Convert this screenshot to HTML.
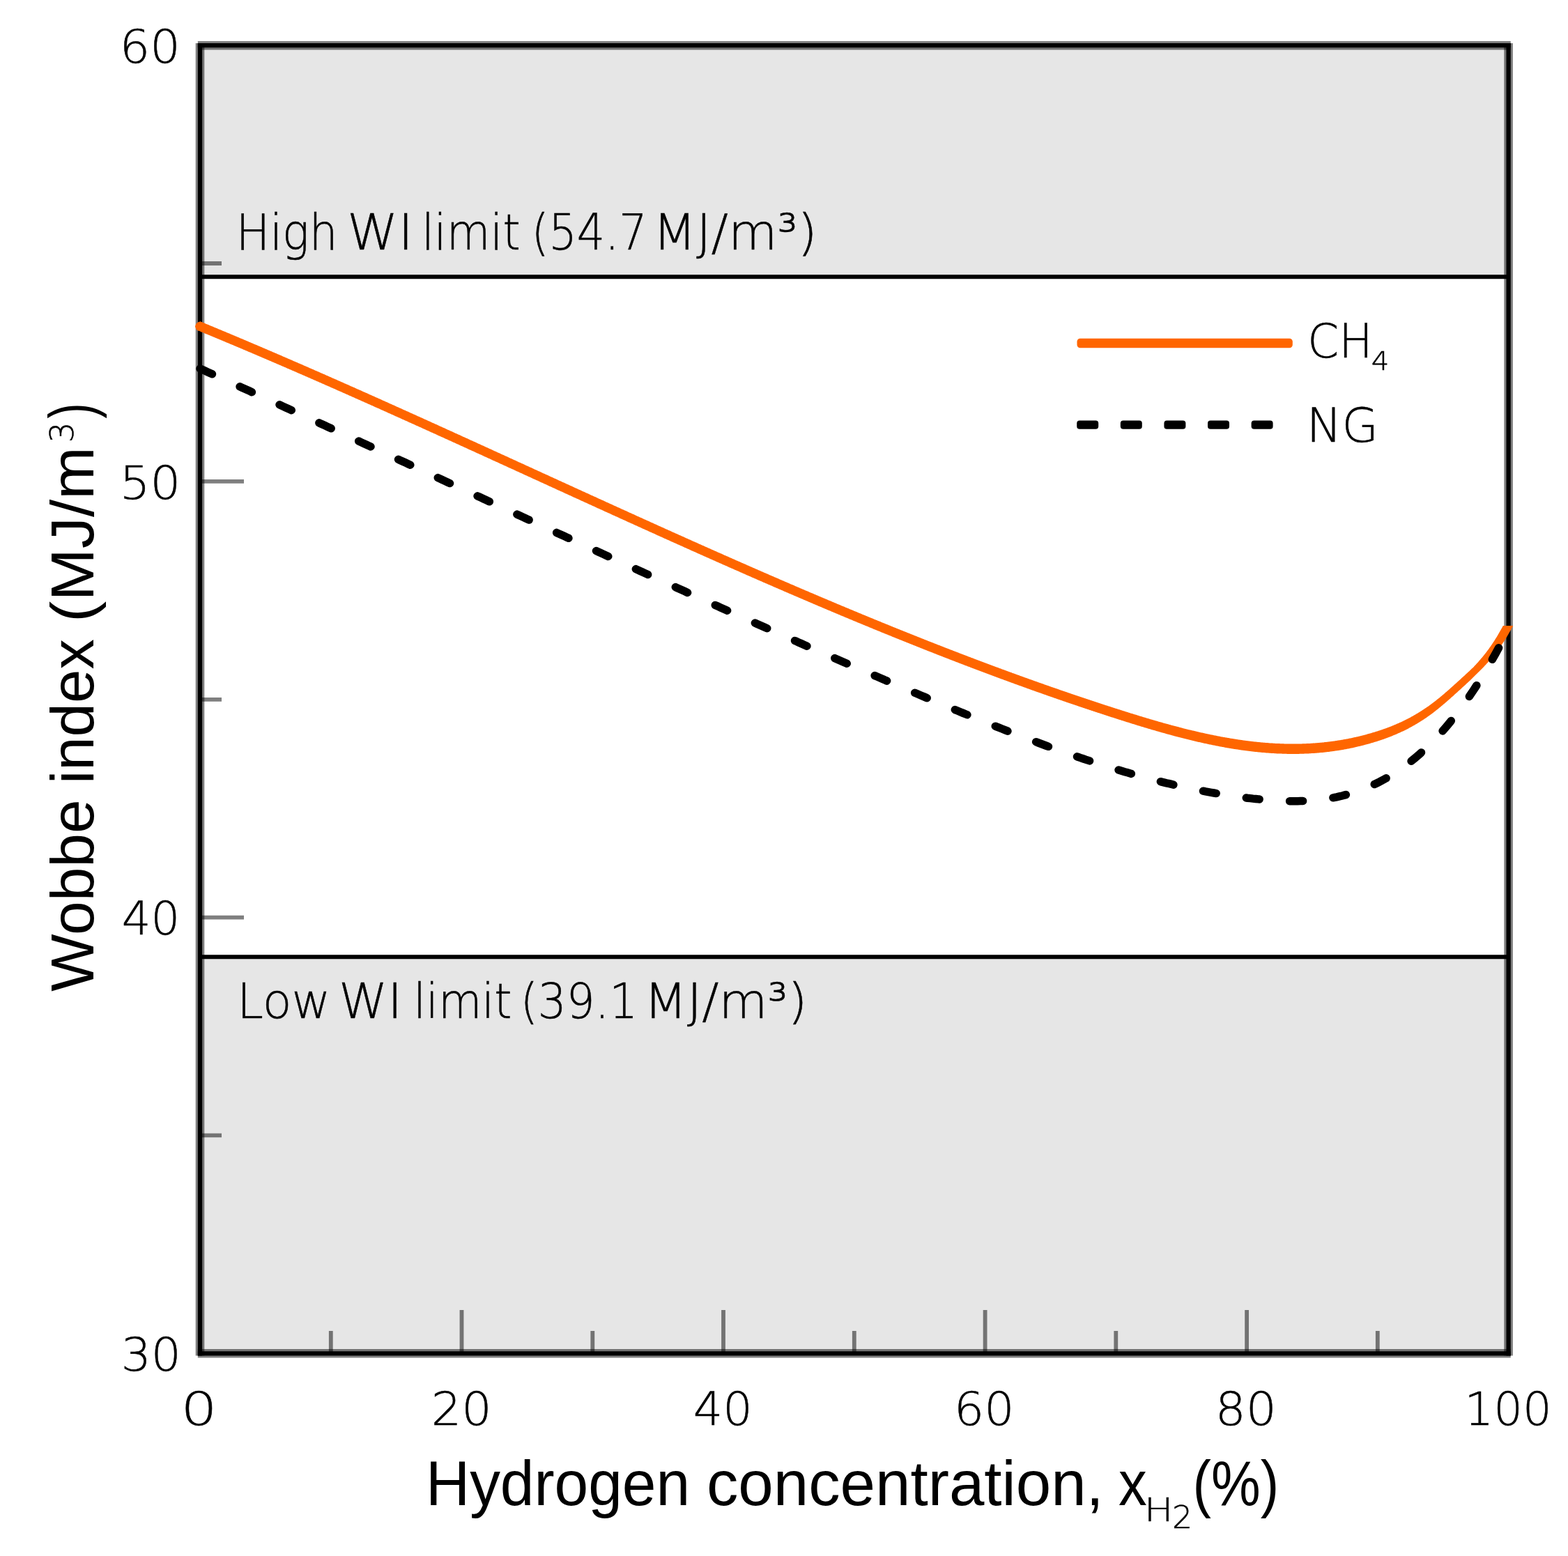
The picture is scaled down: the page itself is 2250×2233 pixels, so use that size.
<!DOCTYPE html><html><head><meta charset="utf-8"><title>Wobbe index vs hydrogen concentration</title>
<style>html,body{margin:0;padding:0;background:#fff;overflow:hidden}svg{display:block}</style></head><body>
<svg width="2250" height="2233" viewBox="0 0 2250 2233">
<rect x="0" y="0" width="2250" height="2233" fill="#fff"/>
<rect x="287.0" y="65.2" width="1877.6" height="331.6" fill="#e6e6e6"/>
<rect x="287.0" y="1372.9" width="1877.6" height="569.4" fill="#e6e6e6"/>
<path d="M287.00 62.05 L287.00 1945.45" stroke="rgba(0,0,0,0.5)" stroke-width="12.6" fill="none"/>
<path d="M287.00 62.05 L287.00 1945.45" stroke="#000" stroke-width="6.3" fill="none"/>
<path d="M283.85 65.20 L2167.75 65.20" stroke="rgba(0,0,0,0.5)" stroke-width="12.6" fill="none"/>
<path d="M283.85 65.20 L2167.75 65.20" stroke="#000" stroke-width="6.3" fill="none"/>
<path d="M2164.60 62.05 L2164.60 1945.45" stroke="rgba(0,0,0,0.5)" stroke-width="12.6" fill="none"/>
<path d="M2164.60 62.05 L2164.60 1945.45" stroke="#000" stroke-width="6.3" fill="none"/>
<path d="M283.85 1942.30 L2167.75 1942.30" stroke="rgba(0,0,0,0.5)" stroke-width="12.6" fill="none"/>
<path d="M283.85 1942.30 L2167.75 1942.30" stroke="#000" stroke-width="6.3" fill="none"/>
<path d="M287.0 378.0 H318 M287.0 1003.8 H318 M287.0 1629.4 H318 M287.0 690.9 H350 M287.0 1316.6 H350 M474.8 1942.3 V1910 M850.3 1942.3 V1910 M1225.8 1942.3 V1910 M1601.3 1942.3 V1910 M1976.8 1942.3 V1910 M662.5 1942.3 V1880 M1038.0 1942.3 V1880 M1413.6 1942.3 V1880 M1789.1 1942.3 V1880" stroke="rgba(0,0,0,0.5)" stroke-width="5.8" fill="none"/>
<path d="M287.0 397.2 H2164.6 M287.0 1373.3 H2164.6" stroke="#000" stroke-width="6" fill="none"/>
<path d="M279.8 468.4 L287.0 461.2 L288.0 461.6 L289.0 462.0 L290.0 462.4 L291.0 462.8 L292.0 463.2 L293.0 463.6 L294.0 464.0 L295.0 464.5 L296.0 464.9 L297.0 465.3 L298.0 465.7 L299.0 466.1 L300.0 466.5 L301.0 466.9 L302.0 467.4 L303.0 467.8 L304.0 468.2 L305.0 468.6 L306.0 469.0 L307.0 469.4 L308.0 469.9 L309.0 470.3 L310.0 470.7 L311.0 471.1 L312.0 471.5 L313.0 471.9 L314.0 472.4 L315.0 472.8 L316.0 473.2 L317.0 473.6 L318.0 474.0 L319.0 474.4 L320.0 474.9 L321.0 475.3 L322.0 475.7 L323.0 476.1 L324.0 476.5 L325.0 477.0 L326.0 477.4 L327.0 477.8 L328.0 478.2 L329.0 478.6 L330.0 479.1 L331.0 479.5 L332.0 479.9 L333.0 480.3 L334.0 480.7 L335.0 481.2 L336.0 481.6 L337.0 482.0 L338.0 482.4 L339.0 482.8 L340.0 483.3 L341.0 483.7 L342.0 484.1 L343.0 484.5 L344.0 484.9 L345.0 485.4 L346.0 485.8 L347.0 486.2 L348.0 486.6 L349.0 487.1 L350.0 487.5 L351.0 487.9 L352.0 488.3 L353.0 488.8 L354.0 489.2 L355.0 489.6 L356.0 490.0 L357.0 490.5 L358.0 490.9 L359.0 491.3 L360.0 491.7 L361.0 492.2 L362.0 492.6 L363.0 493.0 L364.0 493.4 L365.0 493.9 L366.0 494.3 L367.0 494.7 L368.0 495.1 L369.0 495.6 L370.0 496.0 L371.0 496.4 L372.0 496.8 L373.0 497.3 L374.0 497.7 L375.0 498.1 L376.0 498.5 L377.0 499.0 L378.0 499.4 L379.0 499.8 L380.0 500.3 L381.0 500.7 L382.0 501.1 L383.0 501.5 L384.0 502.0 L385.0 502.4 L386.0 502.8 L387.0 503.3 L388.0 503.7 L389.0 504.1 L390.0 504.5 L391.0 505.0 L392.0 505.4 L393.0 505.8 L394.0 506.3 L395.0 506.7 L396.0 507.1 L397.0 507.6 L398.0 508.0 L399.0 508.4 L400.0 508.8 L401.0 509.3 L402.0 509.7 L403.0 510.1 L404.0 510.6 L405.0 511.0 L406.0 511.4 L407.0 511.9 L408.0 512.3 L409.0 512.7 L410.0 513.2 L411.0 513.6 L412.0 514.0 L413.0 514.5 L414.0 514.9 L415.0 515.3 L416.0 515.8 L417.0 516.2 L418.0 516.6 L419.0 517.1 L420.0 517.5 L421.0 517.9 L422.0 518.4 L423.0 518.8 L424.0 519.2 L425.0 519.7 L426.0 520.1 L427.0 520.5 L428.0 521.0 L429.0 521.4 L430.0 521.8 L431.0 522.3 L432.0 522.7 L433.0 523.1 L434.0 523.6 L435.0 524.0 L436.0 524.4 L437.0 524.9 L438.0 525.3 L439.0 525.8 L440.0 526.2 L441.0 526.6 L442.0 527.1 L443.0 527.5 L444.0 527.9 L445.0 528.4 L446.0 528.8 L447.0 529.3 L448.0 529.7 L449.0 530.1 L450.0 530.6 L451.0 531.0 L452.0 531.4 L453.0 531.9 L454.0 532.3 L455.0 532.8 L456.0 533.2 L457.0 533.6 L458.0 534.1 L459.0 534.5 L460.0 534.9 L461.0 535.4 L462.0 535.8 L463.0 536.3 L464.0 536.7 L465.0 537.1 L466.0 537.6 L467.0 538.0 L468.0 538.5 L469.0 538.9 L470.0 539.3 L471.0 539.8 L472.0 540.2 L473.0 540.7 L474.0 541.1 L475.0 541.5 L476.0 542.0 L477.0 542.4 L478.0 542.9 L479.0 543.3 L480.0 543.7 L481.0 544.2 L482.0 544.6 L483.0 545.1 L484.0 545.5 L485.0 546.0 L486.0 546.4 L487.0 546.8 L488.0 547.3 L489.0 547.7 L490.0 548.2 L491.0 548.6 L492.0 549.0 L493.0 549.5 L494.0 549.9 L495.0 550.4 L496.0 550.8 L497.0 551.3 L498.0 551.7 L499.0 552.1 L500.0 552.6 L501.0 553.0 L502.0 553.5 L503.0 553.9 L504.0 554.4 L505.0 554.8 L506.0 555.3 L507.0 555.7 L508.0 556.1 L509.0 556.6 L510.0 557.0 L511.0 557.5 L512.0 557.9 L513.0 558.4 L514.0 558.8 L515.0 559.3 L516.0 559.7 L517.0 560.1 L518.0 560.6 L519.0 561.0 L520.0 561.5 L521.0 561.9 L522.0 562.4 L523.0 562.8 L524.0 563.3 L525.0 563.7 L526.0 564.1 L527.0 564.6 L528.0 565.0 L529.0 565.5 L530.0 565.9 L531.0 566.4 L532.0 566.8 L533.0 567.3 L534.0 567.7 L535.0 568.2 L536.0 568.6 L537.0 569.1 L538.0 569.5 L539.0 570.0 L540.0 570.4 L541.0 570.8 L542.0 571.3 L543.0 571.7 L544.0 572.2 L545.0 572.6 L546.0 573.1 L547.0 573.5 L548.0 574.0 L549.0 574.4 L550.0 574.9 L551.0 575.3 L552.0 575.8 L553.0 576.2 L554.0 576.7 L555.0 577.1 L556.0 577.6 L557.0 578.0 L558.0 578.5 L559.0 578.9 L560.0 579.4 L561.0 579.8 L562.0 580.3 L563.0 580.7 L564.0 581.2 L565.0 581.6 L566.0 582.1 L567.0 582.5 L568.0 583.0 L569.0 583.4 L570.0 583.9 L571.0 584.3 L572.0 584.8 L573.0 585.2 L574.0 585.7 L575.0 586.1 L576.0 586.6 L577.0 587.0 L578.0 587.5 L579.0 587.9 L580.0 588.4 L581.0 588.8 L582.0 589.3 L583.0 589.7 L584.0 590.2 L585.0 590.6 L586.0 591.1 L587.0 591.5 L588.0 592.0 L589.0 592.4 L590.0 592.9 L591.0 593.3 L592.0 593.8 L593.0 594.2 L594.0 594.7 L595.0 595.1 L596.0 595.6 L597.0 596.0 L598.0 596.5 L599.0 596.9 L600.0 597.4 L601.0 597.8 L602.0 598.3 L603.0 598.7 L604.0 599.2 L605.0 599.6 L606.0 600.1 L607.0 600.5 L608.0 601.0 L609.0 601.4 L610.0 601.9 L611.0 602.3 L612.0 602.8 L613.0 603.3 L614.0 603.7 L615.0 604.2 L616.0 604.6 L617.0 605.1 L618.0 605.5 L619.0 606.0 L620.0 606.4 L621.0 606.9 L622.0 607.3 L623.0 607.8 L624.0 608.2 L625.0 608.7 L626.0 609.1 L627.0 609.6 L628.0 610.0 L629.0 610.5 L630.0 611.0 L631.0 611.4 L632.0 611.9 L633.0 612.3 L634.0 612.8 L635.0 613.2 L636.0 613.7 L637.0 614.1 L638.0 614.6 L639.0 615.0 L640.0 615.5 L641.0 615.9 L642.0 616.4 L643.0 616.9 L644.0 617.3 L645.0 617.8 L646.0 618.2 L647.0 618.7 L648.0 619.1 L649.0 619.6 L650.0 620.0 L651.0 620.5 L652.0 620.9 L653.0 621.4 L654.0 621.9 L655.0 622.3 L656.0 622.8 L657.0 623.2 L658.0 623.7 L659.0 624.1 L660.0 624.6 L661.0 625.0 L662.0 625.5 L663.0 625.9 L664.0 626.4 L665.0 626.9 L666.0 627.3 L667.0 627.8 L668.0 628.2 L669.0 628.7 L670.0 629.1 L671.0 629.6 L672.0 630.0 L673.0 630.5 L674.0 631.0 L675.0 631.4 L676.0 631.9 L677.0 632.3 L678.0 632.8 L679.0 633.2 L680.0 633.7 L681.0 634.1 L682.0 634.6 L683.0 635.1 L684.0 635.5 L685.0 636.0 L686.0 636.4 L687.0 636.9 L688.0 637.3 L689.0 637.8 L690.0 638.2 L691.0 638.7 L692.0 639.2 L693.0 639.6 L694.0 640.1 L695.0 640.5 L696.0 641.0 L697.0 641.4 L698.0 641.9 L699.0 642.3 L700.0 642.8 L701.0 643.3 L702.0 643.7 L703.0 644.2 L704.0 644.6 L705.0 645.1 L706.0 645.5 L707.0 646.0 L708.0 646.5 L709.0 646.9 L710.0 647.4 L711.0 647.8 L712.0 648.3 L713.0 648.7 L714.0 649.2 L715.0 649.7 L716.0 650.1 L717.0 650.6 L718.0 651.0 L719.0 651.5 L720.0 651.9 L721.0 652.4 L722.0 652.8 L723.0 653.3 L724.0 653.8 L725.0 654.2 L726.0 654.7 L727.0 655.1 L728.0 655.6 L729.0 656.0 L730.0 656.5 L731.0 657.0 L732.0 657.4 L733.0 657.9 L734.0 658.3 L735.0 658.8 L736.0 659.2 L737.0 659.7 L738.0 660.2 L739.0 660.6 L740.0 661.1 L741.0 661.5 L742.0 662.0 L743.0 662.4 L744.0 662.9 L745.0 663.4 L746.0 663.8 L747.0 664.3 L748.0 664.7 L749.0 665.2 L750.0 665.6 L751.0 666.1 L752.0 666.6 L753.0 667.0 L754.0 667.5 L755.0 667.9 L756.0 668.4 L757.0 668.8 L758.0 669.3 L759.0 669.8 L760.0 670.2 L761.0 670.7 L762.0 671.1 L763.0 671.6 L764.0 672.0 L765.0 672.5 L766.0 673.0 L767.0 673.4 L768.0 673.9 L769.0 674.3 L770.0 674.8 L771.0 675.2 L772.0 675.7 L773.0 676.2 L774.0 676.6 L775.0 677.1 L776.0 677.5 L777.0 678.0 L778.0 678.4 L779.0 678.9 L780.0 679.4 L781.0 679.8 L782.0 680.3 L783.0 680.7 L784.0 681.2 L785.0 681.6 L786.0 682.1 L787.0 682.6 L788.0 683.0 L789.0 683.5 L790.0 683.9 L791.0 684.4 L792.0 684.8 L793.0 685.3 L794.0 685.8 L795.0 686.2 L796.0 686.7 L797.0 687.1 L798.0 687.6 L799.0 688.0 L800.0 688.5 L801.0 689.0 L802.0 689.4 L803.0 689.9 L804.0 690.3 L805.0 690.8 L806.0 691.2 L807.0 691.7 L808.0 692.2 L809.0 692.6 L810.0 693.1 L811.0 693.5 L812.0 694.0 L813.0 694.4 L814.0 694.9 L815.0 695.3 L816.0 695.8 L817.0 696.3 L818.0 696.7 L819.0 697.2 L820.0 697.6 L821.0 698.1 L822.0 698.5 L823.0 699.0 L824.0 699.5 L825.0 699.9 L826.0 700.4 L827.0 700.8 L828.0 701.3 L829.0 701.7 L830.0 702.2 L831.0 702.7 L832.0 703.1 L833.0 703.6 L834.0 704.0 L835.0 704.5 L836.0 704.9 L837.0 705.4 L838.0 705.8 L839.0 706.3 L840.0 706.8 L841.0 707.2 L842.0 707.7 L843.0 708.1 L844.0 708.6 L845.0 709.0 L846.0 709.5 L847.0 709.9 L848.0 710.4 L849.0 710.9 L850.0 711.3 L851.0 711.8 L852.0 712.2 L853.0 712.7 L854.0 713.1 L855.0 713.6 L856.0 714.0 L857.0 714.5 L858.0 715.0 L859.0 715.4 L860.0 715.9 L861.0 716.3 L862.0 716.8 L863.0 717.2 L864.0 717.7 L865.0 718.1 L866.0 718.6 L867.0 719.1 L868.0 719.5 L869.0 720.0 L870.0 720.4 L871.0 720.9 L872.0 721.3 L873.0 721.8 L874.0 722.2 L875.0 722.7 L876.0 723.2 L877.0 723.6 L878.0 724.1 L879.0 724.5 L880.0 725.0 L881.0 725.4 L882.0 725.9 L883.0 726.3 L884.0 726.8 L885.0 727.2 L886.0 727.7 L887.0 728.2 L888.0 728.6 L889.0 729.1 L890.0 729.5 L891.0 730.0 L892.0 730.4 L893.0 730.9 L894.0 731.3 L895.0 731.8 L896.0 732.2 L897.0 732.7 L898.0 733.1 L899.0 733.6 L900.0 734.1 L901.0 734.5 L902.0 735.0 L903.0 735.4 L904.0 735.9 L905.0 736.3 L906.0 736.8 L907.0 737.2 L908.0 737.7 L909.0 738.1 L910.0 738.6 L911.0 739.0 L912.0 739.5 L913.0 739.9 L914.0 740.4 L915.0 740.9 L916.0 741.3 L917.0 741.8 L918.0 742.2 L919.0 742.7 L920.0 743.1 L921.0 743.6 L922.0 744.0 L923.0 744.5 L924.0 744.9 L925.0 745.4 L926.0 745.8 L927.0 746.3 L928.0 746.7 L929.0 747.2 L930.0 747.6 L931.0 748.1 L932.0 748.5 L933.0 749.0 L934.0 749.4 L935.0 749.9 L936.0 750.3 L937.0 750.8 L938.0 751.2 L939.0 751.7 L940.0 752.2 L941.0 752.6 L942.0 753.1 L943.0 753.5 L944.0 754.0 L945.0 754.4 L946.0 754.9 L947.0 755.3 L948.0 755.8 L949.0 756.2 L950.0 756.7 L951.0 757.1 L952.0 757.6 L953.0 758.0 L954.0 758.5 L955.0 758.9 L956.0 759.4 L957.0 759.8 L958.0 760.3 L959.0 760.7 L960.0 761.2 L961.0 761.6 L962.0 762.1 L963.0 762.5 L964.0 763.0 L965.0 763.4 L966.0 763.9 L967.0 764.3 L968.0 764.8 L969.0 765.2 L970.0 765.7 L971.0 766.1 L972.0 766.6 L973.0 767.0 L974.0 767.4 L975.0 767.9 L976.0 768.3 L977.0 768.8 L978.0 769.2 L979.0 769.7 L980.0 770.1 L981.0 770.6 L982.0 771.0 L983.0 771.5 L984.0 771.9 L985.0 772.4 L986.0 772.8 L987.0 773.3 L988.0 773.7 L989.0 774.2 L990.0 774.6 L991.0 775.1 L992.0 775.5 L993.0 776.0 L994.0 776.4 L995.0 776.9 L996.0 777.3 L997.0 777.7 L998.0 778.2 L999.0 778.6 L1000.0 779.1 L1001.0 779.5 L1002.0 780.0 L1003.0 780.4 L1004.0 780.9 L1005.0 781.3 L1006.0 781.8 L1007.0 782.2 L1008.0 782.7 L1009.0 783.1 L1010.0 783.5 L1011.0 784.0 L1012.0 784.4 L1013.0 784.9 L1014.0 785.3 L1015.0 785.8 L1016.0 786.2 L1017.0 786.7 L1018.0 787.1 L1019.0 787.5 L1020.0 788.0 L1021.0 788.4 L1022.0 788.9 L1023.0 789.3 L1024.0 789.8 L1025.0 790.2 L1026.0 790.7 L1027.0 791.1 L1028.0 791.5 L1029.0 792.0 L1030.0 792.4 L1031.0 792.9 L1032.0 793.3 L1033.0 793.8 L1034.0 794.2 L1035.0 794.6 L1036.0 795.1 L1037.0 795.5 L1038.0 796.0 L1039.0 796.4 L1040.0 796.9 L1041.0 797.3 L1042.0 797.7 L1043.0 798.2 L1044.0 798.6 L1045.0 799.1 L1046.0 799.5 L1047.0 800.0 L1048.0 800.4 L1049.0 800.8 L1050.0 801.3 L1051.0 801.7 L1052.0 802.2 L1053.0 802.6 L1054.0 803.0 L1055.0 803.5 L1056.0 803.9 L1057.0 804.4 L1058.0 804.8 L1059.0 805.2 L1060.0 805.7 L1061.0 806.1 L1062.0 806.6 L1063.0 807.0 L1064.0 807.4 L1065.0 807.9 L1066.0 808.3 L1067.0 808.8 L1068.0 809.2 L1069.0 809.6 L1070.0 810.1 L1071.0 810.5 L1072.0 811.0 L1073.0 811.4 L1074.0 811.8 L1075.0 812.3 L1076.0 812.7 L1077.0 813.2 L1078.0 813.6 L1079.0 814.0 L1080.0 814.5 L1081.0 814.9 L1082.0 815.3 L1083.0 815.8 L1084.0 816.2 L1085.0 816.7 L1086.0 817.1 L1087.0 817.5 L1088.0 818.0 L1089.0 818.4 L1090.0 818.8 L1091.0 819.3 L1092.0 819.7 L1093.0 820.2 L1094.0 820.6 L1095.0 821.0 L1096.0 821.5 L1097.0 821.9 L1098.0 822.3 L1099.0 822.8 L1100.0 823.2 L1101.0 823.6 L1102.0 824.1 L1103.0 824.5 L1104.0 824.9 L1105.0 825.4 L1106.0 825.8 L1107.0 826.2 L1108.0 826.7 L1109.0 827.1 L1110.0 827.5 L1111.0 828.0 L1112.0 828.4 L1113.0 828.8 L1114.0 829.3 L1115.0 829.7 L1116.0 830.1 L1117.0 830.6 L1118.0 831.0 L1119.0 831.4 L1120.0 831.9 L1121.0 832.3 L1122.0 832.7 L1123.0 833.2 L1124.0 833.6 L1125.0 834.0 L1126.0 834.5 L1127.0 834.9 L1128.0 835.3 L1129.0 835.8 L1130.0 836.2 L1131.0 836.6 L1132.0 837.1 L1133.0 837.5 L1134.0 837.9 L1135.0 838.4 L1136.0 838.8 L1137.0 839.2 L1138.0 839.6 L1139.0 840.1 L1140.0 840.5 L1141.0 840.9 L1142.0 841.4 L1143.0 841.8 L1144.0 842.2 L1145.0 842.7 L1146.0 843.1 L1147.0 843.5 L1148.0 843.9 L1149.0 844.4 L1150.0 844.8 L1151.0 845.2 L1152.0 845.7 L1153.0 846.1 L1154.0 846.5 L1155.0 846.9 L1156.0 847.4 L1157.0 847.8 L1158.0 848.2 L1159.0 848.6 L1160.0 849.1 L1161.0 849.5 L1162.0 849.9 L1163.0 850.4 L1164.0 850.8 L1165.0 851.2 L1166.0 851.6 L1167.0 852.1 L1168.0 852.5 L1169.0 852.9 L1170.0 853.3 L1171.0 853.8 L1172.0 854.2 L1173.0 854.6 L1174.0 855.0 L1175.0 855.5 L1176.0 855.9 L1177.0 856.3 L1178.0 856.7 L1179.0 857.2 L1180.0 857.6 L1181.0 858.0 L1182.0 858.4 L1183.0 858.8 L1184.0 859.3 L1185.0 859.7 L1186.0 860.1 L1187.0 860.5 L1188.0 861.0 L1189.0 861.4 L1190.0 861.8 L1191.0 862.2 L1192.0 862.6 L1193.0 863.1 L1194.0 863.5 L1195.0 863.9 L1196.0 864.3 L1197.0 864.8 L1198.0 865.2 L1199.0 865.6 L1200.0 866.0 L1201.0 866.4 L1202.0 866.9 L1203.0 867.3 L1204.0 867.7 L1205.0 868.1 L1206.0 868.5 L1207.0 869.0 L1208.0 869.4 L1209.0 869.8 L1210.0 870.2 L1211.0 870.6 L1212.0 871.0 L1213.0 871.5 L1214.0 871.9 L1215.0 872.3 L1216.0 872.7 L1217.0 873.1 L1218.0 873.6 L1219.0 874.0 L1220.0 874.4 L1221.0 874.8 L1222.0 875.2 L1223.0 875.6 L1224.0 876.1 L1225.0 876.5 L1226.0 876.9 L1227.0 877.3 L1228.0 877.7 L1229.0 878.1 L1230.0 878.5 L1231.0 879.0 L1232.0 879.4 L1233.0 879.8 L1234.0 880.2 L1235.0 880.6 L1236.0 881.0 L1237.0 881.4 L1238.0 881.9 L1239.0 882.3 L1240.0 882.7 L1241.0 883.1 L1242.0 883.5 L1243.0 883.9 L1244.0 884.3 L1245.0 884.7 L1246.0 885.2 L1247.0 885.6 L1248.0 886.0 L1249.0 886.4 L1250.0 886.8 L1251.0 887.2 L1252.0 887.6 L1253.0 888.0 L1254.0 888.5 L1255.0 888.9 L1256.0 889.3 L1257.0 889.7 L1258.0 890.1 L1259.0 890.5 L1260.0 890.9 L1261.0 891.3 L1262.0 891.7 L1263.0 892.1 L1264.0 892.5 L1265.0 893.0 L1266.0 893.4 L1267.0 893.8 L1268.0 894.2 L1269.0 894.6 L1270.0 895.0 L1271.0 895.4 L1272.0 895.8 L1273.0 896.2 L1274.0 896.6 L1275.0 897.0 L1276.0 897.4 L1277.0 897.8 L1278.0 898.2 L1279.0 898.7 L1280.0 899.1 L1281.0 899.5 L1282.0 899.9 L1283.0 900.3 L1284.0 900.7 L1285.0 901.1 L1286.0 901.5 L1287.0 901.9 L1288.0 902.3 L1289.0 902.7 L1290.0 903.1 L1291.0 903.5 L1292.0 903.9 L1293.0 904.3 L1294.0 904.7 L1295.0 905.1 L1296.0 905.5 L1297.0 905.9 L1298.0 906.3 L1299.0 906.7 L1300.0 907.1 L1301.0 907.5 L1302.0 907.9 L1303.0 908.3 L1304.0 908.7 L1305.0 909.1 L1306.0 909.5 L1307.0 909.9 L1308.0 910.3 L1309.0 910.7 L1310.0 911.1 L1311.0 911.5 L1312.0 911.9 L1313.0 912.3 L1314.0 912.7 L1315.0 913.1 L1316.0 913.5 L1317.0 913.9 L1318.0 914.3 L1319.0 914.7 L1320.0 915.1 L1321.0 915.5 L1322.0 915.9 L1323.0 916.3 L1324.0 916.7 L1325.0 917.1 L1326.0 917.5 L1327.0 917.9 L1328.0 918.3 L1329.0 918.7 L1330.0 919.1 L1331.0 919.5 L1332.0 919.9 L1333.0 920.3 L1334.0 920.7 L1335.0 921.0 L1336.0 921.4 L1337.0 921.8 L1338.0 922.2 L1339.0 922.6 L1340.0 923.0 L1341.0 923.4 L1342.0 923.8 L1343.0 924.2 L1344.0 924.6 L1345.0 925.0 L1346.0 925.4 L1347.0 925.8 L1348.0 926.1 L1349.0 926.5 L1350.0 926.9 L1351.0 927.3 L1352.0 927.7 L1353.0 928.1 L1354.0 928.5 L1355.0 928.9 L1356.0 929.3 L1357.0 929.7 L1358.0 930.0 L1359.0 930.4 L1360.0 930.8 L1361.0 931.2 L1362.0 931.6 L1363.0 932.0 L1364.0 932.4 L1365.0 932.8 L1366.0 933.1 L1367.0 933.5 L1368.0 933.9 L1369.0 934.3 L1370.0 934.7 L1371.0 935.1 L1372.0 935.5 L1373.0 935.8 L1374.0 936.2 L1375.0 936.6 L1376.0 937.0 L1377.0 937.4 L1378.0 937.8 L1379.0 938.2 L1380.0 938.5 L1381.0 938.9 L1382.0 939.3 L1383.0 939.7 L1384.0 940.1 L1385.0 940.5 L1386.0 940.8 L1387.0 941.2 L1388.0 941.6 L1389.0 942.0 L1390.0 942.4 L1391.0 942.7 L1392.0 943.1 L1393.0 943.5 L1394.0 943.9 L1395.0 944.3 L1396.0 944.6 L1397.0 945.0 L1398.0 945.4 L1399.0 945.8 L1400.0 946.2 L1401.0 946.5 L1402.0 946.9 L1403.0 947.3 L1404.0 947.7 L1405.0 948.0 L1406.0 948.4 L1407.0 948.8 L1408.0 949.2 L1409.0 949.6 L1410.0 949.9 L1411.0 950.3 L1412.0 950.7 L1413.0 951.1 L1414.0 951.4 L1415.0 951.8 L1416.0 952.2 L1417.0 952.6 L1418.0 952.9 L1419.0 953.3 L1420.0 953.7 L1421.0 954.0 L1422.0 954.4 L1423.0 954.8 L1424.0 955.2 L1425.0 955.5 L1426.0 955.9 L1427.0 956.3 L1428.0 956.7 L1429.0 957.0 L1430.0 957.4 L1431.0 957.8 L1432.0 958.1 L1433.0 958.5 L1434.0 958.9 L1435.0 959.3 L1436.0 959.6 L1437.0 960.0 L1438.0 960.4 L1439.0 960.7 L1440.0 961.1 L1441.0 961.5 L1442.0 961.8 L1443.0 962.2 L1444.0 962.6 L1445.0 962.9 L1446.0 963.3 L1447.0 963.7 L1448.0 964.0 L1449.0 964.4 L1450.0 964.8 L1451.0 965.1 L1452.0 965.5 L1453.0 965.9 L1454.0 966.2 L1455.0 966.6 L1456.0 967.0 L1457.0 967.3 L1458.0 967.7 L1459.0 968.0 L1460.0 968.4 L1461.0 968.8 L1462.0 969.1 L1463.0 969.5 L1464.0 969.9 L1465.0 970.2 L1466.0 970.6 L1467.0 970.9 L1468.0 971.3 L1469.0 971.7 L1470.0 972.0 L1471.0 972.4 L1472.0 972.7 L1473.0 973.1 L1474.0 973.5 L1475.0 973.8 L1476.0 974.2 L1477.0 974.5 L1478.0 974.9 L1479.0 975.3 L1480.0 975.6 L1481.0 976.0 L1482.0 976.3 L1483.0 976.7 L1484.0 977.0 L1485.0 977.4 L1486.0 977.8 L1487.0 978.1 L1488.0 978.5 L1489.0 978.8 L1490.0 979.2 L1491.0 979.5 L1492.0 979.9 L1493.0 980.2 L1494.0 980.6 L1495.0 980.9 L1496.0 981.3 L1497.0 981.6 L1498.0 982.0 L1499.0 982.4 L1500.0 982.7 L1501.0 983.1 L1502.0 983.4 L1503.0 983.8 L1504.0 984.1 L1505.0 984.5 L1506.0 984.8 L1507.0 985.2 L1508.0 985.5 L1509.0 985.9 L1510.0 986.2 L1511.0 986.6 L1512.0 986.9 L1513.0 987.3 L1514.0 987.6 L1515.0 987.9 L1516.0 988.3 L1517.0 988.6 L1518.0 989.0 L1519.0 989.3 L1520.0 989.7 L1521.0 990.0 L1522.0 990.4 L1523.0 990.7 L1524.0 991.1 L1525.0 991.4 L1526.0 991.8 L1527.0 992.1 L1528.0 992.4 L1529.0 992.8 L1530.0 993.1 L1531.0 993.5 L1532.0 993.8 L1533.0 994.2 L1534.0 994.5 L1535.0 994.8 L1536.0 995.2 L1537.0 995.5 L1538.0 995.9 L1539.0 996.2 L1540.0 996.5 L1541.0 996.9 L1542.0 997.2 L1543.0 997.6 L1544.0 997.9 L1545.0 998.2 L1546.0 998.6 L1547.0 998.9 L1548.0 999.3 L1549.0 999.6 L1550.0 999.9 L1551.0 1000.3 L1552.0 1000.6 L1553.0 1000.9 L1554.0 1001.3 L1555.0 1001.6 L1556.0 1001.9 L1557.0 1002.3 L1558.0 1002.6 L1559.0 1002.9 L1560.0 1003.3 L1561.0 1003.6 L1562.0 1003.9 L1563.0 1004.3 L1564.0 1004.6 L1565.0 1004.9 L1566.0 1005.3 L1567.0 1005.6 L1568.0 1005.9 L1569.0 1006.3 L1570.0 1006.6 L1571.0 1006.9 L1572.0 1007.3 L1573.0 1007.6 L1574.0 1007.9 L1575.0 1008.3 L1576.0 1008.6 L1577.0 1008.9 L1578.0 1009.2 L1579.0 1009.6 L1580.0 1009.9 L1581.0 1010.2 L1582.0 1010.6 L1583.0 1010.9 L1584.0 1011.2 L1585.0 1011.5 L1586.0 1011.9 L1587.0 1012.2 L1588.0 1012.5 L1589.0 1012.8 L1590.0 1013.2 L1591.0 1013.5 L1592.0 1013.8 L1593.0 1014.1 L1594.0 1014.5 L1595.0 1014.8 L1596.0 1015.1 L1597.0 1015.4 L1598.0 1015.7 L1599.0 1016.1 L1600.0 1016.4 L1601.0 1016.7 L1602.0 1017.0 L1603.0 1017.3 L1604.0 1017.7 L1605.0 1018.0 L1606.0 1018.3 L1607.0 1018.6 L1608.0 1018.9 L1609.0 1019.3 L1610.0 1019.6 L1611.0 1019.9 L1612.0 1020.2 L1613.0 1020.5 L1614.0 1020.8 L1615.0 1021.2 L1616.0 1021.5 L1617.0 1021.8 L1618.0 1022.1 L1619.0 1022.4 L1620.0 1022.7 L1621.0 1023.0 L1622.0 1023.4 L1623.0 1023.7 L1624.0 1024.0 L1625.0 1024.3 L1626.0 1024.6 L1627.0 1024.9 L1628.0 1025.2 L1629.0 1025.5 L1630.0 1025.8 L1631.0 1026.1 L1632.0 1026.5 L1633.0 1026.8 L1634.0 1027.1 L1635.0 1027.4 L1636.0 1027.7 L1637.0 1028.0 L1638.0 1028.3 L1639.0 1028.6 L1640.0 1028.9 L1641.0 1029.2 L1642.0 1029.5 L1643.0 1029.8 L1644.0 1030.1 L1645.0 1030.4 L1646.0 1030.7 L1647.0 1031.0 L1648.0 1031.3 L1649.0 1031.6 L1650.0 1031.9 L1651.0 1032.2 L1652.0 1032.5 L1653.0 1032.8 L1654.0 1033.1 L1655.0 1033.4 L1656.0 1033.6 L1657.0 1033.9 L1658.0 1034.2 L1659.0 1034.5 L1660.0 1034.8 L1661.0 1035.1 L1662.0 1035.4 L1663.0 1035.7 L1664.0 1036.0 L1665.0 1036.2 L1666.0 1036.5 L1667.0 1036.8 L1668.0 1037.1 L1669.0 1037.4 L1670.0 1037.7 L1671.0 1037.9 L1672.0 1038.2 L1673.0 1038.5 L1674.0 1038.8 L1675.0 1039.0 L1676.0 1039.3 L1677.0 1039.6 L1678.0 1039.9 L1679.0 1040.1 L1680.0 1040.4 L1681.0 1040.7 L1682.0 1041.0 L1683.0 1041.2 L1684.0 1041.5 L1685.0 1041.8 L1686.0 1042.0 L1687.0 1042.3 L1688.0 1042.6 L1689.0 1042.8 L1690.0 1043.1 L1691.0 1043.3 L1692.0 1043.6 L1693.0 1043.9 L1694.0 1044.1 L1695.0 1044.4 L1696.0 1044.6 L1697.0 1044.9 L1698.0 1045.2 L1699.0 1045.4 L1700.0 1045.7 L1701.0 1045.9 L1702.0 1046.2 L1703.0 1046.4 L1704.0 1046.7 L1705.0 1046.9 L1706.0 1047.2 L1707.0 1047.4 L1708.0 1047.6 L1709.0 1047.9 L1710.0 1048.1 L1711.0 1048.4 L1712.0 1048.6 L1713.0 1048.8 L1714.0 1049.1 L1715.0 1049.3 L1716.0 1049.6 L1717.0 1049.8 L1718.0 1050.0 L1719.0 1050.3 L1720.0 1050.5 L1721.0 1050.7 L1722.0 1050.9 L1723.0 1051.2 L1724.0 1051.4 L1725.0 1051.6 L1726.0 1051.8 L1727.0 1052.1 L1728.0 1052.3 L1729.0 1052.5 L1730.0 1052.7 L1731.0 1052.9 L1732.0 1053.1 L1733.0 1053.4 L1734.0 1053.6 L1735.0 1053.8 L1736.0 1054.0 L1737.0 1054.2 L1738.0 1054.4 L1739.0 1054.6 L1740.0 1054.8 L1741.0 1055.0 L1742.0 1055.2 L1743.0 1055.4 L1744.0 1055.6 L1745.0 1055.8 L1746.0 1056.0 L1747.0 1056.2 L1748.0 1056.4 L1749.0 1056.6 L1750.0 1056.8 L1751.0 1057.0 L1752.0 1057.2 L1753.0 1057.4 L1754.0 1057.5 L1755.0 1057.7 L1756.0 1057.9 L1757.0 1058.1 L1758.0 1058.3 L1759.0 1058.5 L1760.0 1058.6 L1761.0 1058.8 L1762.0 1059.0 L1763.0 1059.1 L1764.0 1059.3 L1765.0 1059.5 L1766.0 1059.7 L1767.0 1059.8 L1768.0 1060.0 L1769.0 1060.1 L1770.0 1060.3 L1771.0 1060.5 L1772.0 1060.6 L1773.0 1060.8 L1774.0 1060.9 L1775.0 1061.1 L1776.0 1061.2 L1777.0 1061.4 L1778.0 1061.5 L1779.0 1061.7 L1780.0 1061.8 L1781.0 1062.0 L1782.0 1062.1 L1783.0 1062.3 L1784.0 1062.4 L1785.0 1062.5 L1786.0 1062.7 L1787.0 1062.8 L1788.0 1062.9 L1789.0 1063.1 L1790.0 1063.2 L1791.0 1063.3 L1792.0 1063.4 L1793.0 1063.6 L1794.0 1063.7 L1795.0 1063.8 L1796.0 1063.9 L1797.0 1064.0 L1798.0 1064.2 L1799.0 1064.3 L1800.0 1064.4 L1801.0 1064.5 L1802.0 1064.6 L1803.0 1064.7 L1804.0 1064.8 L1805.0 1064.9 L1806.0 1065.0 L1807.0 1065.1 L1808.0 1065.2 L1809.0 1065.3 L1810.0 1065.4 L1811.0 1065.5 L1812.0 1065.6 L1813.0 1065.7 L1814.0 1065.7 L1815.0 1065.8 L1816.0 1065.9 L1817.0 1066.0 L1818.0 1066.1 L1819.0 1066.1 L1820.0 1066.2 L1821.0 1066.3 L1822.0 1066.4 L1823.0 1066.4 L1824.0 1066.5 L1825.0 1066.6 L1826.0 1066.6 L1827.0 1066.7 L1828.0 1066.7 L1829.0 1066.8 L1830.0 1066.9 L1831.0 1066.9 L1832.0 1067.0 L1833.0 1067.0 L1834.0 1067.0 L1835.0 1067.1 L1836.0 1067.1 L1837.0 1067.2 L1838.0 1067.2 L1839.0 1067.2 L1840.0 1067.3 L1841.0 1067.3 L1842.0 1067.3 L1843.0 1067.4 L1844.0 1067.4 L1845.0 1067.4 L1846.0 1067.4 L1847.0 1067.5 L1848.0 1067.5 L1849.0 1067.5 L1850.0 1067.5 L1851.0 1067.5 L1852.0 1067.5 L1853.0 1067.5 L1854.0 1067.5 L1855.0 1067.5 L1856.0 1067.5 L1857.0 1067.5 L1858.0 1067.5 L1859.0 1067.5 L1860.0 1067.5 L1861.0 1067.5 L1862.0 1067.5 L1863.0 1067.5 L1864.0 1067.5 L1865.0 1067.4 L1866.0 1067.4 L1867.0 1067.4 L1868.0 1067.4 L1869.0 1067.3 L1870.0 1067.3 L1871.0 1067.3 L1872.0 1067.2 L1873.0 1067.2 L1874.0 1067.2 L1875.0 1067.1 L1876.0 1067.1 L1877.0 1067.0 L1878.0 1067.0 L1879.0 1066.9 L1880.0 1066.9 L1881.0 1066.8 L1882.0 1066.7 L1883.0 1066.7 L1884.0 1066.6 L1885.0 1066.5 L1886.0 1066.5 L1887.0 1066.4 L1888.0 1066.3 L1889.0 1066.3 L1890.0 1066.2 L1891.0 1066.1 L1892.0 1066.0 L1893.0 1065.9 L1894.0 1065.8 L1895.0 1065.7 L1896.0 1065.7 L1897.0 1065.6 L1898.0 1065.5 L1899.0 1065.4 L1900.0 1065.3 L1901.0 1065.1 L1902.0 1065.0 L1903.0 1064.9 L1904.0 1064.8 L1905.0 1064.7 L1906.0 1064.6 L1907.0 1064.5 L1908.0 1064.3 L1909.0 1064.2 L1910.0 1064.1 L1911.0 1063.9 L1912.0 1063.8 L1913.0 1063.7 L1914.0 1063.5 L1915.0 1063.4 L1916.0 1063.2 L1917.0 1063.1 L1918.0 1062.9 L1919.0 1062.8 L1920.0 1062.6 L1921.0 1062.5 L1922.0 1062.3 L1923.0 1062.2 L1924.0 1062.0 L1925.0 1061.8 L1926.0 1061.7 L1927.0 1061.5 L1928.0 1061.3 L1929.0 1061.1 L1930.0 1060.9 L1931.0 1060.8 L1932.0 1060.6 L1933.0 1060.4 L1934.0 1060.2 L1935.0 1060.0 L1936.0 1059.8 L1937.0 1059.6 L1938.0 1059.4 L1939.0 1059.2 L1940.0 1059.0 L1941.0 1058.8 L1942.0 1058.5 L1943.0 1058.3 L1944.0 1058.1 L1945.0 1057.9 L1946.0 1057.6 L1947.0 1057.4 L1948.0 1057.2 L1949.0 1056.9 L1950.0 1056.7 L1951.0 1056.5 L1952.0 1056.2 L1953.0 1056.0 L1954.0 1055.7 L1955.0 1055.5 L1956.0 1055.2 L1957.0 1055.0 L1958.0 1054.7 L1959.0 1054.4 L1960.0 1054.2 L1961.0 1053.9 L1962.0 1053.6 L1963.0 1053.3 L1964.0 1053.1 L1965.0 1052.8 L1966.0 1052.5 L1967.0 1052.2 L1968.0 1051.9 L1969.0 1051.6 L1970.0 1051.3 L1971.0 1051.0 L1972.0 1050.7 L1973.0 1050.4 L1974.0 1050.1 L1975.0 1049.8 L1976.0 1049.5 L1977.0 1049.2 L1978.0 1048.8 L1979.0 1048.5 L1980.0 1048.2 L1981.0 1047.8 L1982.0 1047.5 L1983.0 1047.2 L1984.0 1046.8 L1985.0 1046.5 L1986.0 1046.1 L1987.0 1045.8 L1988.0 1045.4 L1989.0 1045.0 L1990.0 1044.7 L1991.0 1044.3 L1992.0 1043.9 L1993.0 1043.5 L1994.0 1043.2 L1995.0 1042.8 L1996.0 1042.4 L1997.0 1042.0 L1998.0 1041.6 L1999.0 1041.2 L2000.0 1040.7 L2001.0 1040.3 L2002.0 1039.9 L2003.0 1039.5 L2004.0 1039.1 L2005.0 1038.6 L2006.0 1038.2 L2007.0 1037.7 L2008.0 1037.3 L2009.0 1036.8 L2010.0 1036.4 L2011.0 1035.9 L2012.0 1035.4 L2013.0 1035.0 L2014.0 1034.5 L2015.0 1034.0 L2016.0 1033.5 L2017.0 1033.0 L2018.0 1032.5 L2019.0 1032.0 L2020.0 1031.5 L2021.0 1031.0 L2022.0 1030.4 L2023.0 1029.9 L2024.0 1029.4 L2025.0 1028.8 L2026.0 1028.3 L2027.0 1027.7 L2028.0 1027.2 L2029.0 1026.6 L2030.0 1026.0 L2031.0 1025.4 L2032.0 1024.8 L2033.0 1024.3 L2034.0 1023.7 L2035.0 1023.1 L2036.0 1022.4 L2037.0 1021.8 L2038.0 1021.2 L2039.0 1020.6 L2040.0 1019.9 L2041.0 1019.3 L2042.0 1018.6 L2043.0 1018.0 L2044.0 1017.3 L2045.0 1016.6 L2046.0 1016.0 L2047.0 1015.3 L2048.0 1014.6 L2049.0 1013.9 L2050.0 1013.2 L2051.0 1012.5 L2052.0 1011.7 L2053.0 1011.0 L2054.0 1010.3 L2055.0 1009.5 L2056.0 1008.8 L2057.0 1008.0 L2058.0 1007.2 L2059.0 1006.5 L2060.0 1005.7 L2061.0 1004.9 L2062.0 1004.1 L2063.0 1003.3 L2064.0 1002.5 L2065.0 1001.7 L2066.0 1000.9 L2067.0 1000.1 L2068.0 999.2 L2069.0 998.4 L2070.0 997.5 L2071.0 996.7 L2072.0 995.9 L2073.0 995.0 L2074.0 994.1 L2075.0 993.3 L2076.0 992.4 L2077.0 991.5 L2078.0 990.7 L2079.0 989.8 L2080.0 988.9 L2081.0 988.0 L2082.0 987.1 L2083.0 986.2 L2084.0 985.3 L2085.0 984.5 L2086.0 983.6 L2087.0 982.6 L2088.0 981.7 L2089.0 980.8 L2090.0 979.9 L2091.0 979.0 L2092.0 978.1 L2093.0 977.2 L2094.0 976.3 L2095.0 975.4 L2096.0 974.5 L2097.0 973.5 L2098.0 972.6 L2099.0 971.7 L2100.0 970.8 L2101.0 969.9 L2102.0 969.0 L2103.0 968.0 L2104.0 967.1 L2105.0 966.2 L2106.0 965.3 L2107.0 964.3 L2108.0 963.4 L2109.0 962.5 L2110.0 961.5 L2111.0 960.6 L2112.0 959.6 L2113.0 958.7 L2114.0 957.7 L2115.0 956.7 L2116.0 955.7 L2117.0 954.7 L2110.8 960.9 L2111.8 959.9 L2112.8 958.9 L2113.8 957.9 L2114.8 956.9 L2115.8 955.8 L2116.8 954.7 L2117.8 953.7 L2118.8 952.6 L2119.8 951.5 L2120.8 950.4 L2121.8 949.3 L2122.8 948.1 L2123.8 947.0 L2124.8 945.8 L2125.8 944.6 L2126.8 943.4 L2127.8 942.2 L2128.8 941.0 L2129.8 939.8 L2130.8 938.5 L2131.8 937.2 L2132.8 935.9 L2133.8 934.6 L2134.8 933.3 L2135.8 931.9 L2136.8 930.5 L2137.8 929.1 L2138.8 927.7 L2139.8 926.3 L2140.8 924.8 L2141.8 923.3 L2142.8 921.8 L2143.8 920.3 L2144.8 918.7 L2145.8 917.1 L2146.8 915.5 L2147.8 913.9 L2148.8 912.2 L2149.8 910.5 L2150.8 908.8 L2151.8 907.1 L2152.8 905.3 L2153.8 903.5 L2154.8 901.7 L2155.8 899.9 L2156.8 898.0 L2171.2 898.0 L2170.2 899.9 L2169.2 901.7 L2168.2 903.5 L2167.2 905.3 L2166.2 907.1 L2165.2 908.8 L2164.2 910.5 L2163.2 912.2 L2162.2 913.9 L2161.2 915.5 L2160.2 917.1 L2159.2 918.7 L2158.2 920.3 L2157.2 921.8 L2156.2 923.3 L2155.2 924.8 L2154.2 926.3 L2153.2 927.7 L2152.2 929.1 L2151.2 930.5 L2150.2 931.9 L2149.2 933.3 L2148.2 934.6 L2147.2 935.9 L2146.2 937.2 L2145.2 938.5 L2144.2 939.8 L2143.2 941.0 L2142.2 942.2 L2141.2 943.4 L2140.2 944.6 L2139.2 945.8 L2138.2 947.0 L2137.2 948.1 L2136.2 949.3 L2135.2 950.4 L2134.2 951.5 L2133.2 952.6 L2132.2 953.7 L2131.2 954.7 L2130.2 955.8 L2129.2 956.9 L2128.2 957.9 L2127.2 958.9 L2126.2 959.9 L2125.2 960.9 L2117.0 969.1 L2116.0 970.1 L2115.0 971.1 L2114.0 972.1 L2113.0 973.1 L2112.0 974.0 L2111.0 975.0 L2110.0 975.9 L2109.0 976.9 L2108.0 977.8 L2107.0 978.7 L2106.0 979.7 L2105.0 980.6 L2104.0 981.5 L2103.0 982.4 L2102.0 983.4 L2101.0 984.3 L2100.0 985.2 L2099.0 986.1 L2098.0 987.0 L2097.0 987.9 L2096.0 988.9 L2095.0 989.8 L2094.0 990.7 L2093.0 991.6 L2092.0 992.5 L2091.0 993.4 L2090.0 994.3 L2089.0 995.2 L2088.0 996.1 L2087.0 997.0 L2086.0 998.0 L2085.0 998.9 L2084.0 999.7 L2083.0 1000.6 L2082.0 1001.5 L2081.0 1002.4 L2080.0 1003.3 L2079.0 1004.2 L2078.0 1005.1 L2077.0 1005.9 L2076.0 1006.8 L2075.0 1007.7 L2074.0 1008.5 L2073.0 1009.4 L2072.0 1010.3 L2071.0 1011.1 L2070.0 1011.9 L2069.0 1012.8 L2068.0 1013.6 L2067.0 1014.5 L2066.0 1015.3 L2065.0 1016.1 L2064.0 1016.9 L2063.0 1017.7 L2062.0 1018.5 L2061.0 1019.3 L2060.0 1020.1 L2059.0 1020.9 L2058.0 1021.6 L2057.0 1022.4 L2056.0 1023.2 L2055.0 1023.9 L2054.0 1024.7 L2053.0 1025.4 L2052.0 1026.1 L2051.0 1026.9 L2050.0 1027.6 L2049.0 1028.3 L2048.0 1029.0 L2047.0 1029.7 L2046.0 1030.4 L2045.0 1031.0 L2044.0 1031.7 L2043.0 1032.4 L2042.0 1033.0 L2041.0 1033.7 L2040.0 1034.3 L2039.0 1035.0 L2038.0 1035.6 L2037.0 1036.2 L2036.0 1036.8 L2035.0 1037.5 L2034.0 1038.1 L2033.0 1038.7 L2032.0 1039.2 L2031.0 1039.8 L2030.0 1040.4 L2029.0 1041.0 L2028.0 1041.6 L2027.0 1042.1 L2026.0 1042.7 L2025.0 1043.2 L2024.0 1043.8 L2023.0 1044.3 L2022.0 1044.8 L2021.0 1045.4 L2020.0 1045.9 L2019.0 1046.4 L2018.0 1046.9 L2017.0 1047.4 L2016.0 1047.9 L2015.0 1048.4 L2014.0 1048.9 L2013.0 1049.4 L2012.0 1049.8 L2011.0 1050.3 L2010.0 1050.8 L2009.0 1051.2 L2008.0 1051.7 L2007.0 1052.1 L2006.0 1052.6 L2005.0 1053.0 L2004.0 1053.5 L2003.0 1053.9 L2002.0 1054.3 L2001.0 1054.7 L2000.0 1055.1 L1999.0 1055.6 L1998.0 1056.0 L1997.0 1056.4 L1996.0 1056.8 L1995.0 1057.2 L1994.0 1057.6 L1993.0 1057.9 L1992.0 1058.3 L1991.0 1058.7 L1990.0 1059.1 L1989.0 1059.4 L1988.0 1059.8 L1987.0 1060.2 L1986.0 1060.5 L1985.0 1060.9 L1984.0 1061.2 L1983.0 1061.6 L1982.0 1061.9 L1981.0 1062.2 L1980.0 1062.6 L1979.0 1062.9 L1978.0 1063.2 L1977.0 1063.6 L1976.0 1063.9 L1975.0 1064.2 L1974.0 1064.5 L1973.0 1064.8 L1972.0 1065.1 L1971.0 1065.4 L1970.0 1065.7 L1969.0 1066.0 L1968.0 1066.3 L1967.0 1066.6 L1966.0 1066.9 L1965.0 1067.2 L1964.0 1067.5 L1963.0 1067.7 L1962.0 1068.0 L1961.0 1068.3 L1960.0 1068.6 L1959.0 1068.8 L1958.0 1069.1 L1957.0 1069.4 L1956.0 1069.6 L1955.0 1069.9 L1954.0 1070.1 L1953.0 1070.4 L1952.0 1070.6 L1951.0 1070.9 L1950.0 1071.1 L1949.0 1071.3 L1948.0 1071.6 L1947.0 1071.8 L1946.0 1072.0 L1945.0 1072.3 L1944.0 1072.5 L1943.0 1072.7 L1942.0 1072.9 L1941.0 1073.2 L1940.0 1073.4 L1939.0 1073.6 L1938.0 1073.8 L1937.0 1074.0 L1936.0 1074.2 L1935.0 1074.4 L1934.0 1074.6 L1933.0 1074.8 L1932.0 1075.0 L1931.0 1075.2 L1930.0 1075.3 L1929.0 1075.5 L1928.0 1075.7 L1927.0 1075.9 L1926.0 1076.1 L1925.0 1076.2 L1924.0 1076.4 L1923.0 1076.6 L1922.0 1076.7 L1921.0 1076.9 L1920.0 1077.0 L1919.0 1077.2 L1918.0 1077.3 L1917.0 1077.5 L1916.0 1077.6 L1915.0 1077.8 L1914.0 1077.9 L1913.0 1078.1 L1912.0 1078.2 L1911.0 1078.3 L1910.0 1078.5 L1909.0 1078.6 L1908.0 1078.7 L1907.0 1078.9 L1906.0 1079.0 L1905.0 1079.1 L1904.0 1079.2 L1903.0 1079.3 L1902.0 1079.4 L1901.0 1079.5 L1900.0 1079.7 L1899.0 1079.8 L1898.0 1079.9 L1897.0 1080.0 L1896.0 1080.1 L1895.0 1080.1 L1894.0 1080.2 L1893.0 1080.3 L1892.0 1080.4 L1891.0 1080.5 L1890.0 1080.6 L1889.0 1080.7 L1888.0 1080.7 L1887.0 1080.8 L1886.0 1080.9 L1885.0 1080.9 L1884.0 1081.0 L1883.0 1081.1 L1882.0 1081.1 L1881.0 1081.2 L1880.0 1081.3 L1879.0 1081.3 L1878.0 1081.4 L1877.0 1081.4 L1876.0 1081.5 L1875.0 1081.5 L1874.0 1081.6 L1873.0 1081.6 L1872.0 1081.6 L1871.0 1081.7 L1870.0 1081.7 L1869.0 1081.7 L1868.0 1081.8 L1867.0 1081.8 L1866.0 1081.8 L1865.0 1081.8 L1864.0 1081.9 L1863.0 1081.9 L1862.0 1081.9 L1861.0 1081.9 L1860.0 1081.9 L1859.0 1081.9 L1858.0 1081.9 L1857.0 1081.9 L1856.0 1081.9 L1855.0 1081.9 L1854.0 1081.9 L1853.0 1081.9 L1852.0 1081.9 L1851.0 1081.9 L1850.0 1081.9 L1849.0 1081.9 L1848.0 1081.9 L1847.0 1081.9 L1846.0 1081.8 L1845.0 1081.8 L1844.0 1081.8 L1843.0 1081.8 L1842.0 1081.7 L1841.0 1081.7 L1840.0 1081.7 L1839.0 1081.6 L1838.0 1081.6 L1837.0 1081.6 L1836.0 1081.5 L1835.0 1081.5 L1834.0 1081.4 L1833.0 1081.4 L1832.0 1081.4 L1831.0 1081.3 L1830.0 1081.3 L1829.0 1081.2 L1828.0 1081.1 L1827.0 1081.1 L1826.0 1081.0 L1825.0 1081.0 L1824.0 1080.9 L1823.0 1080.8 L1822.0 1080.8 L1821.0 1080.7 L1820.0 1080.6 L1819.0 1080.5 L1818.0 1080.5 L1817.0 1080.4 L1816.0 1080.3 L1815.0 1080.2 L1814.0 1080.1 L1813.0 1080.1 L1812.0 1080.0 L1811.0 1079.9 L1810.0 1079.8 L1809.0 1079.7 L1808.0 1079.6 L1807.0 1079.5 L1806.0 1079.4 L1805.0 1079.3 L1804.0 1079.2 L1803.0 1079.1 L1802.0 1079.0 L1801.0 1078.9 L1800.0 1078.8 L1799.0 1078.7 L1798.0 1078.6 L1797.0 1078.4 L1796.0 1078.3 L1795.0 1078.2 L1794.0 1078.1 L1793.0 1078.0 L1792.0 1077.8 L1791.0 1077.7 L1790.0 1077.6 L1789.0 1077.5 L1788.0 1077.3 L1787.0 1077.2 L1786.0 1077.1 L1785.0 1076.9 L1784.0 1076.8 L1783.0 1076.7 L1782.0 1076.5 L1781.0 1076.4 L1780.0 1076.2 L1779.0 1076.1 L1778.0 1075.9 L1777.0 1075.8 L1776.0 1075.6 L1775.0 1075.5 L1774.0 1075.3 L1773.0 1075.2 L1772.0 1075.0 L1771.0 1074.9 L1770.0 1074.7 L1769.0 1074.5 L1768.0 1074.4 L1767.0 1074.2 L1766.0 1074.1 L1765.0 1073.9 L1764.0 1073.7 L1763.0 1073.5 L1762.0 1073.4 L1761.0 1073.2 L1760.0 1073.0 L1759.0 1072.9 L1758.0 1072.7 L1757.0 1072.5 L1756.0 1072.3 L1755.0 1072.1 L1754.0 1071.9 L1753.0 1071.8 L1752.0 1071.6 L1751.0 1071.4 L1750.0 1071.2 L1749.0 1071.0 L1748.0 1070.8 L1747.0 1070.6 L1746.0 1070.4 L1745.0 1070.2 L1744.0 1070.0 L1743.0 1069.8 L1742.0 1069.6 L1741.0 1069.4 L1740.0 1069.2 L1739.0 1069.0 L1738.0 1068.8 L1737.0 1068.6 L1736.0 1068.4 L1735.0 1068.2 L1734.0 1068.0 L1733.0 1067.8 L1732.0 1067.5 L1731.0 1067.3 L1730.0 1067.1 L1729.0 1066.9 L1728.0 1066.7 L1727.0 1066.5 L1726.0 1066.2 L1725.0 1066.0 L1724.0 1065.8 L1723.0 1065.6 L1722.0 1065.3 L1721.0 1065.1 L1720.0 1064.9 L1719.0 1064.7 L1718.0 1064.4 L1717.0 1064.2 L1716.0 1064.0 L1715.0 1063.7 L1714.0 1063.5 L1713.0 1063.2 L1712.0 1063.0 L1711.0 1062.8 L1710.0 1062.5 L1709.0 1062.3 L1708.0 1062.0 L1707.0 1061.8 L1706.0 1061.6 L1705.0 1061.3 L1704.0 1061.1 L1703.0 1060.8 L1702.0 1060.6 L1701.0 1060.3 L1700.0 1060.1 L1699.0 1059.8 L1698.0 1059.6 L1697.0 1059.3 L1696.0 1059.0 L1695.0 1058.8 L1694.0 1058.5 L1693.0 1058.3 L1692.0 1058.0 L1691.0 1057.7 L1690.0 1057.5 L1689.0 1057.2 L1688.0 1057.0 L1687.0 1056.7 L1686.0 1056.4 L1685.0 1056.2 L1684.0 1055.9 L1683.0 1055.6 L1682.0 1055.4 L1681.0 1055.1 L1680.0 1054.8 L1679.0 1054.5 L1678.0 1054.3 L1677.0 1054.0 L1676.0 1053.7 L1675.0 1053.4 L1674.0 1053.2 L1673.0 1052.9 L1672.0 1052.6 L1671.0 1052.3 L1670.0 1052.1 L1669.0 1051.8 L1668.0 1051.5 L1667.0 1051.2 L1666.0 1050.9 L1665.0 1050.6 L1664.0 1050.4 L1663.0 1050.1 L1662.0 1049.8 L1661.0 1049.5 L1660.0 1049.2 L1659.0 1048.9 L1658.0 1048.6 L1657.0 1048.3 L1656.0 1048.0 L1655.0 1047.8 L1654.0 1047.5 L1653.0 1047.2 L1652.0 1046.9 L1651.0 1046.6 L1650.0 1046.3 L1649.0 1046.0 L1648.0 1045.7 L1647.0 1045.4 L1646.0 1045.1 L1645.0 1044.8 L1644.0 1044.5 L1643.0 1044.2 L1642.0 1043.9 L1641.0 1043.6 L1640.0 1043.3 L1639.0 1043.0 L1638.0 1042.7 L1637.0 1042.4 L1636.0 1042.1 L1635.0 1041.8 L1634.0 1041.5 L1633.0 1041.2 L1632.0 1040.9 L1631.0 1040.5 L1630.0 1040.2 L1629.0 1039.9 L1628.0 1039.6 L1627.0 1039.3 L1626.0 1039.0 L1625.0 1038.7 L1624.0 1038.4 L1623.0 1038.1 L1622.0 1037.8 L1621.0 1037.4 L1620.0 1037.1 L1619.0 1036.8 L1618.0 1036.5 L1617.0 1036.2 L1616.0 1035.9 L1615.0 1035.6 L1614.0 1035.2 L1613.0 1034.9 L1612.0 1034.6 L1611.0 1034.3 L1610.0 1034.0 L1609.0 1033.7 L1608.0 1033.3 L1607.0 1033.0 L1606.0 1032.7 L1605.0 1032.4 L1604.0 1032.1 L1603.0 1031.7 L1602.0 1031.4 L1601.0 1031.1 L1600.0 1030.8 L1599.0 1030.5 L1598.0 1030.1 L1597.0 1029.8 L1596.0 1029.5 L1595.0 1029.2 L1594.0 1028.9 L1593.0 1028.5 L1592.0 1028.2 L1591.0 1027.9 L1590.0 1027.6 L1589.0 1027.2 L1588.0 1026.9 L1587.0 1026.6 L1586.0 1026.3 L1585.0 1025.9 L1584.0 1025.6 L1583.0 1025.3 L1582.0 1025.0 L1581.0 1024.6 L1580.0 1024.3 L1579.0 1024.0 L1578.0 1023.6 L1577.0 1023.3 L1576.0 1023.0 L1575.0 1022.7 L1574.0 1022.3 L1573.0 1022.0 L1572.0 1021.7 L1571.0 1021.3 L1570.0 1021.0 L1569.0 1020.7 L1568.0 1020.3 L1567.0 1020.0 L1566.0 1019.7 L1565.0 1019.3 L1564.0 1019.0 L1563.0 1018.7 L1562.0 1018.3 L1561.0 1018.0 L1560.0 1017.7 L1559.0 1017.3 L1558.0 1017.0 L1557.0 1016.7 L1556.0 1016.3 L1555.0 1016.0 L1554.0 1015.7 L1553.0 1015.3 L1552.0 1015.0 L1551.0 1014.7 L1550.0 1014.3 L1549.0 1014.0 L1548.0 1013.7 L1547.0 1013.3 L1546.0 1013.0 L1545.0 1012.6 L1544.0 1012.3 L1543.0 1012.0 L1542.0 1011.6 L1541.0 1011.3 L1540.0 1010.9 L1539.0 1010.6 L1538.0 1010.3 L1537.0 1009.9 L1536.0 1009.6 L1535.0 1009.2 L1534.0 1008.9 L1533.0 1008.6 L1532.0 1008.2 L1531.0 1007.9 L1530.0 1007.5 L1529.0 1007.2 L1528.0 1006.8 L1527.0 1006.5 L1526.0 1006.2 L1525.0 1005.8 L1524.0 1005.5 L1523.0 1005.1 L1522.0 1004.8 L1521.0 1004.4 L1520.0 1004.1 L1519.0 1003.7 L1518.0 1003.4 L1517.0 1003.0 L1516.0 1002.7 L1515.0 1002.3 L1514.0 1002.0 L1513.0 1001.7 L1512.0 1001.3 L1511.0 1001.0 L1510.0 1000.6 L1509.0 1000.3 L1508.0 999.9 L1507.0 999.6 L1506.0 999.2 L1505.0 998.9 L1504.0 998.5 L1503.0 998.2 L1502.0 997.8 L1501.0 997.5 L1500.0 997.1 L1499.0 996.8 L1498.0 996.4 L1497.0 996.0 L1496.0 995.7 L1495.0 995.3 L1494.0 995.0 L1493.0 994.6 L1492.0 994.3 L1491.0 993.9 L1490.0 993.6 L1489.0 993.2 L1488.0 992.9 L1487.0 992.5 L1486.0 992.2 L1485.0 991.8 L1484.0 991.4 L1483.0 991.1 L1482.0 990.7 L1481.0 990.4 L1480.0 990.0 L1479.0 989.7 L1478.0 989.3 L1477.0 988.9 L1476.0 988.6 L1475.0 988.2 L1474.0 987.9 L1473.0 987.5 L1472.0 987.1 L1471.0 986.8 L1470.0 986.4 L1469.0 986.1 L1468.0 985.7 L1467.0 985.3 L1466.0 985.0 L1465.0 984.6 L1464.0 984.3 L1463.0 983.9 L1462.0 983.5 L1461.0 983.2 L1460.0 982.8 L1459.0 982.4 L1458.0 982.1 L1457.0 981.7 L1456.0 981.4 L1455.0 981.0 L1454.0 980.6 L1453.0 980.3 L1452.0 979.9 L1451.0 979.5 L1450.0 979.2 L1449.0 978.8 L1448.0 978.4 L1447.0 978.1 L1446.0 977.7 L1445.0 977.3 L1444.0 977.0 L1443.0 976.6 L1442.0 976.2 L1441.0 975.9 L1440.0 975.5 L1439.0 975.1 L1438.0 974.8 L1437.0 974.4 L1436.0 974.0 L1435.0 973.7 L1434.0 973.3 L1433.0 972.9 L1432.0 972.5 L1431.0 972.2 L1430.0 971.8 L1429.0 971.4 L1428.0 971.1 L1427.0 970.7 L1426.0 970.3 L1425.0 969.9 L1424.0 969.6 L1423.0 969.2 L1422.0 968.8 L1421.0 968.4 L1420.0 968.1 L1419.0 967.7 L1418.0 967.3 L1417.0 967.0 L1416.0 966.6 L1415.0 966.2 L1414.0 965.8 L1413.0 965.5 L1412.0 965.1 L1411.0 964.7 L1410.0 964.3 L1409.0 964.0 L1408.0 963.6 L1407.0 963.2 L1406.0 962.8 L1405.0 962.4 L1404.0 962.1 L1403.0 961.7 L1402.0 961.3 L1401.0 960.9 L1400.0 960.6 L1399.0 960.2 L1398.0 959.8 L1397.0 959.4 L1396.0 959.0 L1395.0 958.7 L1394.0 958.3 L1393.0 957.9 L1392.0 957.5 L1391.0 957.1 L1390.0 956.8 L1389.0 956.4 L1388.0 956.0 L1387.0 955.6 L1386.0 955.2 L1385.0 954.9 L1384.0 954.5 L1383.0 954.1 L1382.0 953.7 L1381.0 953.3 L1380.0 952.9 L1379.0 952.6 L1378.0 952.2 L1377.0 951.8 L1376.0 951.4 L1375.0 951.0 L1374.0 950.6 L1373.0 950.2 L1372.0 949.9 L1371.0 949.5 L1370.0 949.1 L1369.0 948.7 L1368.0 948.3 L1367.0 947.9 L1366.0 947.5 L1365.0 947.2 L1364.0 946.8 L1363.0 946.4 L1362.0 946.0 L1361.0 945.6 L1360.0 945.2 L1359.0 944.8 L1358.0 944.4 L1357.0 944.1 L1356.0 943.7 L1355.0 943.3 L1354.0 942.9 L1353.0 942.5 L1352.0 942.1 L1351.0 941.7 L1350.0 941.3 L1349.0 940.9 L1348.0 940.5 L1347.0 940.2 L1346.0 939.8 L1345.0 939.4 L1344.0 939.0 L1343.0 938.6 L1342.0 938.2 L1341.0 937.8 L1340.0 937.4 L1339.0 937.0 L1338.0 936.6 L1337.0 936.2 L1336.0 935.8 L1335.0 935.4 L1334.0 935.1 L1333.0 934.7 L1332.0 934.3 L1331.0 933.9 L1330.0 933.5 L1329.0 933.1 L1328.0 932.7 L1327.0 932.3 L1326.0 931.9 L1325.0 931.5 L1324.0 931.1 L1323.0 930.7 L1322.0 930.3 L1321.0 929.9 L1320.0 929.5 L1319.0 929.1 L1318.0 928.7 L1317.0 928.3 L1316.0 927.9 L1315.0 927.5 L1314.0 927.1 L1313.0 926.7 L1312.0 926.3 L1311.0 925.9 L1310.0 925.5 L1309.0 925.1 L1308.0 924.7 L1307.0 924.3 L1306.0 923.9 L1305.0 923.5 L1304.0 923.1 L1303.0 922.7 L1302.0 922.3 L1301.0 921.9 L1300.0 921.5 L1299.0 921.1 L1298.0 920.7 L1297.0 920.3 L1296.0 919.9 L1295.0 919.5 L1294.0 919.1 L1293.0 918.7 L1292.0 918.3 L1291.0 917.9 L1290.0 917.5 L1289.0 917.1 L1288.0 916.7 L1287.0 916.3 L1286.0 915.9 L1285.0 915.5 L1284.0 915.1 L1283.0 914.7 L1282.0 914.3 L1281.0 913.9 L1280.0 913.5 L1279.0 913.1 L1278.0 912.6 L1277.0 912.2 L1276.0 911.8 L1275.0 911.4 L1274.0 911.0 L1273.0 910.6 L1272.0 910.2 L1271.0 909.8 L1270.0 909.4 L1269.0 909.0 L1268.0 908.6 L1267.0 908.2 L1266.0 907.8 L1265.0 907.4 L1264.0 906.9 L1263.0 906.5 L1262.0 906.1 L1261.0 905.7 L1260.0 905.3 L1259.0 904.9 L1258.0 904.5 L1257.0 904.1 L1256.0 903.7 L1255.0 903.3 L1254.0 902.9 L1253.0 902.4 L1252.0 902.0 L1251.0 901.6 L1250.0 901.2 L1249.0 900.8 L1248.0 900.4 L1247.0 900.0 L1246.0 899.6 L1245.0 899.1 L1244.0 898.7 L1243.0 898.3 L1242.0 897.9 L1241.0 897.5 L1240.0 897.1 L1239.0 896.7 L1238.0 896.3 L1237.0 895.8 L1236.0 895.4 L1235.0 895.0 L1234.0 894.6 L1233.0 894.2 L1232.0 893.8 L1231.0 893.4 L1230.0 892.9 L1229.0 892.5 L1228.0 892.1 L1227.0 891.7 L1226.0 891.3 L1225.0 890.9 L1224.0 890.5 L1223.0 890.0 L1222.0 889.6 L1221.0 889.2 L1220.0 888.8 L1219.0 888.4 L1218.0 888.0 L1217.0 887.5 L1216.0 887.1 L1215.0 886.7 L1214.0 886.3 L1213.0 885.9 L1212.0 885.4 L1211.0 885.0 L1210.0 884.6 L1209.0 884.2 L1208.0 883.8 L1207.0 883.4 L1206.0 882.9 L1205.0 882.5 L1204.0 882.1 L1203.0 881.7 L1202.0 881.3 L1201.0 880.8 L1200.0 880.4 L1199.0 880.0 L1198.0 879.6 L1197.0 879.2 L1196.0 878.7 L1195.0 878.3 L1194.0 877.9 L1193.0 877.5 L1192.0 877.0 L1191.0 876.6 L1190.0 876.2 L1189.0 875.8 L1188.0 875.4 L1187.0 874.9 L1186.0 874.5 L1185.0 874.1 L1184.0 873.7 L1183.0 873.2 L1182.0 872.8 L1181.0 872.4 L1180.0 872.0 L1179.0 871.6 L1178.0 871.1 L1177.0 870.7 L1176.0 870.3 L1175.0 869.9 L1174.0 869.4 L1173.0 869.0 L1172.0 868.6 L1171.0 868.2 L1170.0 867.7 L1169.0 867.3 L1168.0 866.9 L1167.0 866.5 L1166.0 866.0 L1165.0 865.6 L1164.0 865.2 L1163.0 864.8 L1162.0 864.3 L1161.0 863.9 L1160.0 863.5 L1159.0 863.0 L1158.0 862.6 L1157.0 862.2 L1156.0 861.8 L1155.0 861.3 L1154.0 860.9 L1153.0 860.5 L1152.0 860.1 L1151.0 859.6 L1150.0 859.2 L1149.0 858.8 L1148.0 858.3 L1147.0 857.9 L1146.0 857.5 L1145.0 857.1 L1144.0 856.6 L1143.0 856.2 L1142.0 855.8 L1141.0 855.3 L1140.0 854.9 L1139.0 854.5 L1138.0 854.0 L1137.0 853.6 L1136.0 853.2 L1135.0 852.8 L1134.0 852.3 L1133.0 851.9 L1132.0 851.5 L1131.0 851.0 L1130.0 850.6 L1129.0 850.2 L1128.0 849.7 L1127.0 849.3 L1126.0 848.9 L1125.0 848.4 L1124.0 848.0 L1123.0 847.6 L1122.0 847.1 L1121.0 846.7 L1120.0 846.3 L1119.0 845.8 L1118.0 845.4 L1117.0 845.0 L1116.0 844.5 L1115.0 844.1 L1114.0 843.7 L1113.0 843.2 L1112.0 842.8 L1111.0 842.4 L1110.0 841.9 L1109.0 841.5 L1108.0 841.1 L1107.0 840.6 L1106.0 840.2 L1105.0 839.8 L1104.0 839.3 L1103.0 838.9 L1102.0 838.5 L1101.0 838.0 L1100.0 837.6 L1099.0 837.2 L1098.0 836.7 L1097.0 836.3 L1096.0 835.9 L1095.0 835.4 L1094.0 835.0 L1093.0 834.6 L1092.0 834.1 L1091.0 833.7 L1090.0 833.2 L1089.0 832.8 L1088.0 832.4 L1087.0 831.9 L1086.0 831.5 L1085.0 831.1 L1084.0 830.6 L1083.0 830.2 L1082.0 829.7 L1081.0 829.3 L1080.0 828.9 L1079.0 828.4 L1078.0 828.0 L1077.0 827.6 L1076.0 827.1 L1075.0 826.7 L1074.0 826.2 L1073.0 825.8 L1072.0 825.4 L1071.0 824.9 L1070.0 824.5 L1069.0 824.0 L1068.0 823.6 L1067.0 823.2 L1066.0 822.7 L1065.0 822.3 L1064.0 821.8 L1063.0 821.4 L1062.0 821.0 L1061.0 820.5 L1060.0 820.1 L1059.0 819.6 L1058.0 819.2 L1057.0 818.8 L1056.0 818.3 L1055.0 817.9 L1054.0 817.4 L1053.0 817.0 L1052.0 816.6 L1051.0 816.1 L1050.0 815.7 L1049.0 815.2 L1048.0 814.8 L1047.0 814.4 L1046.0 813.9 L1045.0 813.5 L1044.0 813.0 L1043.0 812.6 L1042.0 812.1 L1041.0 811.7 L1040.0 811.3 L1039.0 810.8 L1038.0 810.4 L1037.0 809.9 L1036.0 809.5 L1035.0 809.0 L1034.0 808.6 L1033.0 808.2 L1032.0 807.7 L1031.0 807.3 L1030.0 806.8 L1029.0 806.4 L1028.0 805.9 L1027.0 805.5 L1026.0 805.1 L1025.0 804.6 L1024.0 804.2 L1023.0 803.7 L1022.0 803.3 L1021.0 802.8 L1020.0 802.4 L1019.0 801.9 L1018.0 801.5 L1017.0 801.1 L1016.0 800.6 L1015.0 800.2 L1014.0 799.7 L1013.0 799.3 L1012.0 798.8 L1011.0 798.4 L1010.0 797.9 L1009.0 797.5 L1008.0 797.1 L1007.0 796.6 L1006.0 796.2 L1005.0 795.7 L1004.0 795.3 L1003.0 794.8 L1002.0 794.4 L1001.0 793.9 L1000.0 793.5 L999.0 793.0 L998.0 792.6 L997.0 792.1 L996.0 791.7 L995.0 791.3 L994.0 790.8 L993.0 790.4 L992.0 789.9 L991.0 789.5 L990.0 789.0 L989.0 788.6 L988.0 788.1 L987.0 787.7 L986.0 787.2 L985.0 786.8 L984.0 786.3 L983.0 785.9 L982.0 785.4 L981.0 785.0 L980.0 784.5 L979.0 784.1 L978.0 783.6 L977.0 783.2 L976.0 782.7 L975.0 782.3 L974.0 781.8 L973.0 781.4 L972.0 781.0 L971.0 780.5 L970.0 780.1 L969.0 779.6 L968.0 779.2 L967.0 778.7 L966.0 778.3 L965.0 777.8 L964.0 777.4 L963.0 776.9 L962.0 776.5 L961.0 776.0 L960.0 775.6 L959.0 775.1 L958.0 774.7 L957.0 774.2 L956.0 773.8 L955.0 773.3 L954.0 772.9 L953.0 772.4 L952.0 772.0 L951.0 771.5 L950.0 771.1 L949.0 770.6 L948.0 770.2 L947.0 769.7 L946.0 769.3 L945.0 768.8 L944.0 768.4 L943.0 767.9 L942.0 767.5 L941.0 767.0 L940.0 766.6 L939.0 766.1 L938.0 765.6 L937.0 765.2 L936.0 764.7 L935.0 764.3 L934.0 763.8 L933.0 763.4 L932.0 762.9 L931.0 762.5 L930.0 762.0 L929.0 761.6 L928.0 761.1 L927.0 760.7 L926.0 760.2 L925.0 759.8 L924.0 759.3 L923.0 758.9 L922.0 758.4 L921.0 758.0 L920.0 757.5 L919.0 757.1 L918.0 756.6 L917.0 756.2 L916.0 755.7 L915.0 755.3 L914.0 754.8 L913.0 754.3 L912.0 753.9 L911.0 753.4 L910.0 753.0 L909.0 752.5 L908.0 752.1 L907.0 751.6 L906.0 751.2 L905.0 750.7 L904.0 750.3 L903.0 749.8 L902.0 749.4 L901.0 748.9 L900.0 748.5 L899.0 748.0 L898.0 747.5 L897.0 747.1 L896.0 746.6 L895.0 746.2 L894.0 745.7 L893.0 745.3 L892.0 744.8 L891.0 744.4 L890.0 743.9 L889.0 743.5 L888.0 743.0 L887.0 742.6 L886.0 742.1 L885.0 741.6 L884.0 741.2 L883.0 740.7 L882.0 740.3 L881.0 739.8 L880.0 739.4 L879.0 738.9 L878.0 738.5 L877.0 738.0 L876.0 737.6 L875.0 737.1 L874.0 736.6 L873.0 736.2 L872.0 735.7 L871.0 735.3 L870.0 734.8 L869.0 734.4 L868.0 733.9 L867.0 733.5 L866.0 733.0 L865.0 732.5 L864.0 732.1 L863.0 731.6 L862.0 731.2 L861.0 730.7 L860.0 730.3 L859.0 729.8 L858.0 729.4 L857.0 728.9 L856.0 728.4 L855.0 728.0 L854.0 727.5 L853.0 727.1 L852.0 726.6 L851.0 726.2 L850.0 725.7 L849.0 725.3 L848.0 724.8 L847.0 724.3 L846.0 723.9 L845.0 723.4 L844.0 723.0 L843.0 722.5 L842.0 722.1 L841.0 721.6 L840.0 721.2 L839.0 720.7 L838.0 720.2 L837.0 719.8 L836.0 719.3 L835.0 718.9 L834.0 718.4 L833.0 718.0 L832.0 717.5 L831.0 717.1 L830.0 716.6 L829.0 716.1 L828.0 715.7 L827.0 715.2 L826.0 714.8 L825.0 714.3 L824.0 713.9 L823.0 713.4 L822.0 712.9 L821.0 712.5 L820.0 712.0 L819.0 711.6 L818.0 711.1 L817.0 710.7 L816.0 710.2 L815.0 709.7 L814.0 709.3 L813.0 708.8 L812.0 708.4 L811.0 707.9 L810.0 707.5 L809.0 707.0 L808.0 706.6 L807.0 706.1 L806.0 705.6 L805.0 705.2 L804.0 704.7 L803.0 704.3 L802.0 703.8 L801.0 703.4 L800.0 702.9 L799.0 702.4 L798.0 702.0 L797.0 701.5 L796.0 701.1 L795.0 700.6 L794.0 700.2 L793.0 699.7 L792.0 699.2 L791.0 698.8 L790.0 698.3 L789.0 697.9 L788.0 697.4 L787.0 697.0 L786.0 696.5 L785.0 696.0 L784.0 695.6 L783.0 695.1 L782.0 694.7 L781.0 694.2 L780.0 693.8 L779.0 693.3 L778.0 692.8 L777.0 692.4 L776.0 691.9 L775.0 691.5 L774.0 691.0 L773.0 690.6 L772.0 690.1 L771.0 689.6 L770.0 689.2 L769.0 688.7 L768.0 688.3 L767.0 687.8 L766.0 687.4 L765.0 686.9 L764.0 686.4 L763.0 686.0 L762.0 685.5 L761.0 685.1 L760.0 684.6 L759.0 684.2 L758.0 683.7 L757.0 683.2 L756.0 682.8 L755.0 682.3 L754.0 681.9 L753.0 681.4 L752.0 681.0 L751.0 680.5 L750.0 680.0 L749.0 679.6 L748.0 679.1 L747.0 678.7 L746.0 678.2 L745.0 677.8 L744.0 677.3 L743.0 676.8 L742.0 676.4 L741.0 675.9 L740.0 675.5 L739.0 675.0 L738.0 674.6 L737.0 674.1 L736.0 673.6 L735.0 673.2 L734.0 672.7 L733.0 672.3 L732.0 671.8 L731.0 671.4 L730.0 670.9 L729.0 670.4 L728.0 670.0 L727.0 669.5 L726.0 669.1 L725.0 668.6 L724.0 668.2 L723.0 667.7 L722.0 667.2 L721.0 666.8 L720.0 666.3 L719.0 665.9 L718.0 665.4 L717.0 665.0 L716.0 664.5 L715.0 664.1 L714.0 663.6 L713.0 663.1 L712.0 662.7 L711.0 662.2 L710.0 661.8 L709.0 661.3 L708.0 660.9 L707.0 660.4 L706.0 659.9 L705.0 659.5 L704.0 659.0 L703.0 658.6 L702.0 658.1 L701.0 657.7 L700.0 657.2 L699.0 656.7 L698.0 656.3 L697.0 655.8 L696.0 655.4 L695.0 654.9 L694.0 654.5 L693.0 654.0 L692.0 653.6 L691.0 653.1 L690.0 652.6 L689.0 652.2 L688.0 651.7 L687.0 651.3 L686.0 650.8 L685.0 650.4 L684.0 649.9 L683.0 649.5 L682.0 649.0 L681.0 648.5 L680.0 648.1 L679.0 647.6 L678.0 647.2 L677.0 646.7 L676.0 646.3 L675.0 645.8 L674.0 645.4 L673.0 644.9 L672.0 644.4 L671.0 644.0 L670.0 643.5 L669.0 643.1 L668.0 642.6 L667.0 642.2 L666.0 641.7 L665.0 641.3 L664.0 640.8 L663.0 640.3 L662.0 639.9 L661.0 639.4 L660.0 639.0 L659.0 638.5 L658.0 638.1 L657.0 637.6 L656.0 637.2 L655.0 636.7 L654.0 636.3 L653.0 635.8 L652.0 635.3 L651.0 634.9 L650.0 634.4 L649.0 634.0 L648.0 633.5 L647.0 633.1 L646.0 632.6 L645.0 632.2 L644.0 631.7 L643.0 631.3 L642.0 630.8 L641.0 630.3 L640.0 629.9 L639.0 629.4 L638.0 629.0 L637.0 628.5 L636.0 628.1 L635.0 627.6 L634.0 627.2 L633.0 626.7 L632.0 626.3 L631.0 625.8 L630.0 625.4 L629.0 624.9 L628.0 624.4 L627.0 624.0 L626.0 623.5 L625.0 623.1 L624.0 622.6 L623.0 622.2 L622.0 621.7 L621.0 621.3 L620.0 620.8 L619.0 620.4 L618.0 619.9 L617.0 619.5 L616.0 619.0 L615.0 618.6 L614.0 618.1 L613.0 617.7 L612.0 617.2 L611.0 616.7 L610.0 616.3 L609.0 615.8 L608.0 615.4 L607.0 614.9 L606.0 614.5 L605.0 614.0 L604.0 613.6 L603.0 613.1 L602.0 612.7 L601.0 612.2 L600.0 611.8 L599.0 611.3 L598.0 610.9 L597.0 610.4 L596.0 610.0 L595.0 609.5 L594.0 609.1 L593.0 608.6 L592.0 608.2 L591.0 607.7 L590.0 607.3 L589.0 606.8 L588.0 606.4 L587.0 605.9 L586.0 605.5 L585.0 605.0 L584.0 604.6 L583.0 604.1 L582.0 603.7 L581.0 603.2 L580.0 602.8 L579.0 602.3 L578.0 601.9 L577.0 601.4 L576.0 601.0 L575.0 600.5 L574.0 600.1 L573.0 599.6 L572.0 599.2 L571.0 598.7 L570.0 598.3 L569.0 597.8 L568.0 597.4 L567.0 596.9 L566.0 596.5 L565.0 596.0 L564.0 595.6 L563.0 595.1 L562.0 594.7 L561.0 594.2 L560.0 593.8 L559.0 593.3 L558.0 592.9 L557.0 592.4 L556.0 592.0 L555.0 591.5 L554.0 591.1 L553.0 590.6 L552.0 590.2 L551.0 589.7 L550.0 589.3 L549.0 588.8 L548.0 588.4 L547.0 587.9 L546.0 587.5 L545.0 587.0 L544.0 586.6 L543.0 586.1 L542.0 585.7 L541.0 585.2 L540.0 584.8 L539.0 584.4 L538.0 583.9 L537.0 583.5 L536.0 583.0 L535.0 582.6 L534.0 582.1 L533.0 581.7 L532.0 581.2 L531.0 580.8 L530.0 580.3 L529.0 579.9 L528.0 579.4 L527.0 579.0 L526.0 578.5 L525.0 578.1 L524.0 577.7 L523.0 577.2 L522.0 576.8 L521.0 576.3 L520.0 575.9 L519.0 575.4 L518.0 575.0 L517.0 574.5 L516.0 574.1 L515.0 573.7 L514.0 573.2 L513.0 572.8 L512.0 572.3 L511.0 571.9 L510.0 571.4 L509.0 571.0 L508.0 570.5 L507.0 570.1 L506.0 569.7 L505.0 569.2 L504.0 568.8 L503.0 568.3 L502.0 567.9 L501.0 567.4 L500.0 567.0 L499.0 566.5 L498.0 566.1 L497.0 565.7 L496.0 565.2 L495.0 564.8 L494.0 564.3 L493.0 563.9 L492.0 563.4 L491.0 563.0 L490.0 562.6 L489.0 562.1 L488.0 561.7 L487.0 561.2 L486.0 560.8 L485.0 560.4 L484.0 559.9 L483.0 559.5 L482.0 559.0 L481.0 558.6 L480.0 558.1 L479.0 557.7 L478.0 557.3 L477.0 556.8 L476.0 556.4 L475.0 555.9 L474.0 555.5 L473.0 555.1 L472.0 554.6 L471.0 554.2 L470.0 553.7 L469.0 553.3 L468.0 552.9 L467.0 552.4 L466.0 552.0 L465.0 551.5 L464.0 551.1 L463.0 550.7 L462.0 550.2 L461.0 549.8 L460.0 549.3 L459.0 548.9 L458.0 548.5 L457.0 548.0 L456.0 547.6 L455.0 547.2 L454.0 546.7 L453.0 546.3 L452.0 545.8 L451.0 545.4 L450.0 545.0 L449.0 544.5 L448.0 544.1 L447.0 543.7 L446.0 543.2 L445.0 542.8 L444.0 542.3 L443.0 541.9 L442.0 541.5 L441.0 541.0 L440.0 540.6 L439.0 540.2 L438.0 539.7 L437.0 539.3 L436.0 538.8 L435.0 538.4 L434.0 538.0 L433.0 537.5 L432.0 537.1 L431.0 536.7 L430.0 536.2 L429.0 535.8 L428.0 535.4 L427.0 534.9 L426.0 534.5 L425.0 534.1 L424.0 533.6 L423.0 533.2 L422.0 532.8 L421.0 532.3 L420.0 531.9 L419.0 531.5 L418.0 531.0 L417.0 530.6 L416.0 530.2 L415.0 529.7 L414.0 529.3 L413.0 528.9 L412.0 528.4 L411.0 528.0 L410.0 527.6 L409.0 527.1 L408.0 526.7 L407.0 526.3 L406.0 525.8 L405.0 525.4 L404.0 525.0 L403.0 524.5 L402.0 524.1 L401.0 523.7 L400.0 523.2 L399.0 522.8 L398.0 522.4 L397.0 522.0 L396.0 521.5 L395.0 521.1 L394.0 520.7 L393.0 520.2 L392.0 519.8 L391.0 519.4 L390.0 518.9 L389.0 518.5 L388.0 518.1 L387.0 517.7 L386.0 517.2 L385.0 516.8 L384.0 516.4 L383.0 515.9 L382.0 515.5 L381.0 515.1 L380.0 514.7 L379.0 514.2 L378.0 513.8 L377.0 513.4 L376.0 512.9 L375.0 512.5 L374.0 512.1 L373.0 511.7 L372.0 511.2 L371.0 510.8 L370.0 510.4 L369.0 510.0 L368.0 509.5 L367.0 509.1 L366.0 508.7 L365.0 508.3 L364.0 507.8 L363.0 507.4 L362.0 507.0 L361.0 506.6 L360.0 506.1 L359.0 505.7 L358.0 505.3 L357.0 504.9 L356.0 504.4 L355.0 504.0 L354.0 503.6 L353.0 503.2 L352.0 502.7 L351.0 502.3 L350.0 501.9 L349.0 501.5 L348.0 501.0 L347.0 500.6 L346.0 500.2 L345.0 499.8 L344.0 499.3 L343.0 498.9 L342.0 498.5 L341.0 498.1 L340.0 497.7 L339.0 497.2 L338.0 496.8 L337.0 496.4 L336.0 496.0 L335.0 495.6 L334.0 495.1 L333.0 494.7 L332.0 494.3 L331.0 493.9 L330.0 493.5 L329.0 493.0 L328.0 492.6 L327.0 492.2 L326.0 491.8 L325.0 491.4 L324.0 490.9 L323.0 490.5 L322.0 490.1 L321.0 489.7 L320.0 489.3 L319.0 488.8 L318.0 488.4 L317.0 488.0 L316.0 487.6 L315.0 487.2 L314.0 486.8 L313.0 486.3 L312.0 485.9 L311.0 485.5 L310.0 485.1 L309.0 484.7 L308.0 484.3 L307.0 483.8 L306.0 483.4 L305.0 483.0 L304.0 482.6 L303.0 482.2 L302.0 481.8 L301.0 481.3 L300.0 480.9 L299.0 480.5 L298.0 480.1 L297.0 479.7 L296.0 479.3 L295.0 478.9 L294.0 478.4 L293.0 478.0 L292.0 477.6 L291.0 477.2 L290.0 476.8 L289.0 476.4 L288.0 476.0 L287.0 475.6 L287.0 475.6 Z" fill="#ff6600"/>
<circle cx="287" cy="468.4" r="6.7" fill="#ff6600"/>
<path d="M270.0 521.3 L274.0 523.1 L278.0 524.9 L282.0 526.7 L286.0 528.5 L290.0 530.3 L294.0 532.1 L298.0 533.9 L302.0 535.7 L306.0 537.5 L310.0 539.3 L314.0 541.1 L318.0 543.0 L322.0 544.8 L326.0 546.6 L330.0 548.4 L334.0 550.2 L338.0 552.0 L342.0 553.9 L346.0 555.7 L350.0 557.5 L354.0 559.3 L358.0 561.1 L362.0 563.0 L366.0 564.8 L370.0 566.6 L374.0 568.4 L378.0 570.3 L382.0 572.1 L386.0 573.9 L390.0 575.7 L394.0 577.6 L398.0 579.4 L402.0 581.2 L406.0 583.1 L410.0 584.9 L414.0 586.7 L418.0 588.6 L422.0 590.4 L426.0 592.2 L430.0 594.1 L434.0 595.9 L438.0 597.7 L442.0 599.6 L446.0 601.4 L450.0 603.2 L454.0 605.1 L458.0 606.9 L462.0 608.8 L466.0 610.6 L470.0 612.4 L474.0 614.3 L478.0 616.1 L482.0 618.0 L486.0 619.8 L490.0 621.6 L494.0 623.5 L498.0 625.3 L502.0 627.2 L506.0 629.0 L510.0 630.9 L514.0 632.7 L518.0 634.6 L522.0 636.4 L526.0 638.2 L530.0 640.1 L534.0 641.9 L538.0 643.8 L542.0 645.6 L546.0 647.5 L550.0 649.3 L554.0 651.2 L558.0 653.0 L562.0 654.9 L566.0 656.7 L570.0 658.6 L574.0 660.4 L578.0 662.3 L582.0 664.1 L586.0 666.0 L590.0 667.8 L594.0 669.7 L598.0 671.5 L602.0 673.4 L606.0 675.2 L610.0 677.1 L614.0 678.9 L618.0 680.8 L622.0 682.6 L626.0 684.5 L630.0 686.4 L634.0 688.2 L638.0 690.1 L642.0 691.9 L646.0 693.8 L650.0 695.6 L654.0 697.5 L658.0 699.3 L662.0 701.2 L666.0 703.0 L670.0 704.9 L674.0 706.7 L678.0 708.6 L682.0 710.4 L686.0 712.3 L690.0 714.1 L694.0 716.0 L698.0 717.8 L702.0 719.7 L706.0 721.5 L710.0 723.4 L714.0 725.2 L718.0 727.1 L722.0 728.9 L726.0 730.8 L730.0 732.6 L734.0 734.5 L738.0 736.3 L742.0 738.2 L746.0 740.0 L750.0 741.9 L754.0 743.7 L758.0 745.6 L762.0 747.4 L766.0 749.3 L770.0 751.1 L774.0 753.0 L778.0 754.8 L782.0 756.7 L786.0 758.5 L790.0 760.4 L794.0 762.2 L798.0 764.1 L802.0 765.9 L806.0 767.8 L810.0 769.6 L814.0 771.4 L818.0 773.3 L822.0 775.1 L826.0 777.0 L830.0 778.8 L834.0 780.7 L838.0 782.5 L842.0 784.3 L846.0 786.2 L850.0 788.0 L854.0 789.9 L858.0 791.7 L862.0 793.5 L866.0 795.4 L870.0 797.2 L874.0 799.0 L878.0 800.9 L882.0 802.7 L886.0 804.5 L890.0 806.4 L894.0 808.2 L898.0 810.0 L902.0 811.9 L906.0 813.7 L910.0 815.5 L914.0 817.4 L918.0 819.2 L922.0 821.0 L926.0 822.9 L930.0 824.7 L934.0 826.5 L938.0 828.3 L942.0 830.2 L946.0 832.0 L950.0 833.8 L954.0 835.6 L958.0 837.4 L962.0 839.3 L966.0 841.1 L970.0 842.9 L974.0 844.7 L978.0 846.5 L982.0 848.3 L986.0 850.2 L990.0 852.0 L994.0 853.8 L998.0 855.6 L1002.0 857.4 L1006.0 859.2 L1010.0 861.0 L1014.0 862.8 L1018.0 864.6 L1022.0 866.5 L1026.0 868.3 L1030.0 870.1 L1034.0 871.9 L1038.0 873.7 L1042.0 875.5 L1046.0 877.3 L1050.0 879.1 L1054.0 880.9 L1058.0 882.7 L1062.0 884.5 L1066.0 886.2 L1070.0 888.0 L1074.0 889.8 L1078.0 891.6 L1082.0 893.4 L1086.0 895.2 L1090.0 897.0 L1094.0 898.8 L1098.0 900.6 L1102.0 902.3 L1106.0 904.1 L1110.0 905.9 L1114.0 907.7 L1118.0 909.5 L1122.0 911.2 L1126.0 913.0 L1130.0 914.8 L1134.0 916.6 L1138.0 918.3 L1142.0 920.1 L1146.0 921.9 L1150.0 923.6 L1154.0 925.4 L1158.0 927.2 L1162.0 928.9 L1166.0 930.7 L1170.0 932.5 L1174.0 934.2 L1178.0 936.0 L1182.0 937.7 L1186.0 939.5 L1190.0 941.2 L1194.0 943.0 L1198.0 944.7 L1202.0 946.5 L1206.0 948.2 L1210.0 950.0 L1214.0 951.7 L1218.0 953.5 L1222.0 955.2 L1226.0 956.9 L1230.0 958.7 L1234.0 960.4 L1238.0 962.2 L1242.0 963.9 L1246.0 965.6 L1250.0 967.4 L1254.0 969.1 L1258.0 970.8 L1262.0 972.5 L1266.0 974.3 L1270.0 976.0 L1274.0 977.7 L1278.0 979.4 L1282.0 981.1 L1286.0 982.8 L1290.0 984.6 L1294.0 986.3 L1298.0 988.0 L1302.0 989.7 L1306.0 991.4 L1310.0 993.1 L1314.0 994.8 L1318.0 996.5 L1322.0 998.2 L1326.0 999.9 L1330.0 1001.6 L1334.0 1003.3 L1338.0 1005.0 L1342.0 1006.7 L1346.0 1008.3 L1350.0 1010.0 L1354.0 1011.7 L1358.0 1013.4 L1362.0 1015.0 L1366.0 1016.7 L1370.0 1018.4 L1374.0 1020.0 L1378.0 1021.7 L1382.0 1023.4 L1386.0 1025.0 L1390.0 1026.7 L1394.0 1028.3 L1398.0 1029.9 L1402.0 1031.6 L1406.0 1033.2 L1410.0 1034.8 L1414.0 1036.4 L1418.0 1038.1 L1422.0 1039.7 L1426.0 1041.3 L1430.0 1042.9 L1434.0 1044.4 L1438.0 1046.0 L1442.0 1047.6 L1446.0 1049.2 L1450.0 1050.7 L1454.0 1052.3 L1458.0 1053.9 L1462.0 1055.4 L1466.0 1056.9 L1470.0 1058.5 L1474.0 1060.0 L1478.0 1061.5 L1482.0 1063.0 L1486.0 1064.5 L1490.0 1066.0 L1494.0 1067.5 L1498.0 1069.0 L1502.0 1070.5 L1506.0 1071.9 L1510.0 1073.4 L1514.0 1074.8 L1518.0 1076.2 L1522.0 1077.7 L1526.0 1079.1 L1530.0 1080.5 L1534.0 1081.9 L1538.0 1083.3 L1542.0 1084.7 L1546.0 1086.0 L1550.0 1087.4 L1554.0 1088.7 L1558.0 1090.1 L1562.0 1091.4 L1566.0 1092.7 L1570.0 1094.0 L1574.0 1095.3 L1578.0 1096.6 L1582.0 1097.9 L1586.0 1099.2 L1590.0 1100.4 L1594.0 1101.6 L1598.0 1102.9 L1602.0 1104.1 L1606.0 1105.3 L1610.0 1106.5 L1614.0 1107.7 L1618.0 1108.8 L1622.0 1110.0 L1626.0 1111.1 L1630.0 1112.3 L1634.0 1113.4 L1638.0 1114.5 L1642.0 1115.6 L1646.0 1116.6 L1650.0 1117.7 L1654.0 1118.7 L1658.0 1119.8 L1662.0 1120.8 L1666.0 1121.8 L1670.0 1122.8 L1674.0 1123.8 L1678.0 1124.7 L1682.0 1125.7 L1686.0 1126.6 L1690.0 1127.5 L1694.0 1128.4 L1698.0 1129.3 L1702.0 1130.2 L1706.0 1131.1 L1710.0 1131.9 L1714.0 1132.7 L1718.0 1133.5 L1722.0 1134.3 L1726.0 1135.1 L1730.0 1135.9 L1734.0 1136.6 L1738.0 1137.3 L1742.0 1138.0 L1746.0 1138.7 L1750.0 1139.4 L1754.0 1140.1 L1758.0 1140.7 L1762.0 1141.3 L1766.0 1141.9 L1770.0 1142.5 L1774.0 1143.1 L1778.0 1143.6 L1782.0 1144.2 L1786.0 1144.7 L1790.0 1145.2 L1794.0 1145.6 L1798.0 1146.1 L1802.0 1146.5 L1806.0 1146.9 L1810.0 1147.3 L1814.0 1147.7 L1818.0 1148.1 L1822.0 1148.4 L1826.0 1148.7 L1830.0 1148.9 L1834.0 1149.1 L1838.0 1149.3 L1842.0 1149.5 L1846.0 1149.6 L1850.0 1149.7 L1854.0 1149.8 L1858.0 1149.8 L1862.0 1149.7 L1866.0 1149.6 L1870.0 1149.5 L1874.0 1149.3 L1878.0 1149.1 L1882.0 1148.8 L1886.0 1148.5 L1890.0 1148.1 L1894.0 1147.7 L1898.0 1147.2 L1902.0 1146.6 L1906.0 1146.0 L1910.0 1145.3 L1914.0 1144.6 L1918.0 1143.8 L1922.0 1142.9 L1926.0 1142.0 L1930.0 1140.9 L1934.0 1139.9 L1938.0 1138.7 L1942.0 1137.5 L1946.0 1136.2 L1950.0 1134.8 L1954.0 1133.3 L1958.0 1131.8 L1962.0 1130.1 L1966.0 1128.4 L1970.0 1126.6 L1974.0 1124.7 L1978.0 1122.8 L1982.0 1120.7 L1986.0 1118.5 L1990.0 1116.3 L1994.0 1113.9 L1998.0 1111.5 L2002.0 1108.9 L2006.0 1106.3 L2010.0 1103.5 L2014.0 1100.7 L2018.0 1097.7 L2022.0 1094.7 L2026.0 1091.5 L2030.0 1088.2 L2034.0 1084.8 L2038.0 1081.3 L2042.0 1077.7 L2046.0 1074.0 L2050.0 1070.1 L2054.0 1066.1 L2058.0 1062.0 L2062.0 1057.8 L2066.0 1053.5 L2070.0 1049.0 L2074.0 1044.4 L2078.0 1039.7 L2082.0 1034.8 L2086.0 1029.8 L2090.0 1024.7 L2094.0 1019.5 L2098.0 1014.1 L2102.0 1008.5 L2106.0 1002.9 L2110.0 997.1 L2114.0 991.1 L2118.0 985.0 L2122.0 978.7 L2126.0 972.3 L2130.0 965.8 L2134.0 959.1 L2138.0 952.2 L2142.0 945.2 L2146.0 938.1 L2150.0 930.8 L2154.0 923.3 L2158.0 915.6 L2162.0 907.8 L2164.0 903.9" stroke="#000" stroke-width="11.50" fill="none" stroke-linecap="round" stroke-dasharray="19.00 43.57" stroke-dashoffset="43.81"/>
<rect x="1545.5" y="485.8" width="309.3" height="13.4" rx="4.5" fill="#ff6600"/>
<rect x="1545.2" y="603.4" width="31" height="12.4" rx="4" fill="#000"/>
<rect x="1607.8" y="603.4" width="31" height="12.4" rx="4" fill="#000"/>
<rect x="1670.4" y="603.4" width="31" height="12.4" rx="4" fill="#000"/>
<rect x="1733.0" y="603.4" width="31" height="12.4" rx="4" fill="#000"/>
<rect x="1795.6" y="603.4" width="31" height="12.4" rx="4" fill="#000"/>
<text x="171.79" y="90.00" font-family="'DejaVu Sans','Liberation Sans',sans-serif" font-weight="200" stroke="#000" stroke-width="0.5" font-size="66.00" textLength="86.90" lengthAdjust="spacingAndGlyphs" fill="#000">60</text>
<text x="171.75" y="715.67" font-family="'DejaVu Sans','Liberation Sans',sans-serif" font-weight="200" stroke="#000" stroke-width="0.5" font-size="66.00" textLength="87.48" lengthAdjust="spacingAndGlyphs" fill="#000">50</text>
<text x="174.82" y="1341.33" font-family="'DejaVu Sans','Liberation Sans',sans-serif" font-weight="200" stroke="#000" stroke-width="0.5" font-size="66.00" textLength="83.33" lengthAdjust="spacingAndGlyphs" fill="#000">40</text>
<text x="173.67" y="1967.00" font-family="'DejaVu Sans','Liberation Sans',sans-serif" font-weight="200" stroke="#000" stroke-width="0.5" font-size="66.00" textLength="86.06" lengthAdjust="spacingAndGlyphs" fill="#000">30</text>
<text x="259.56" y="2044.50" font-family="'DejaVu Sans','Liberation Sans',sans-serif" font-weight="200" stroke="#000" stroke-width="0.5" font-size="66.00" textLength="52.09" lengthAdjust="spacingAndGlyphs" fill="#000">0</text>
<text x="618.85" y="2044.50" font-family="'DejaVu Sans','Liberation Sans',sans-serif" font-weight="200" stroke="#000" stroke-width="0.5" font-size="66.00" textLength="86.74" lengthAdjust="spacingAndGlyphs" fill="#000">20</text>
<text x="994.86" y="2044.50" font-family="'DejaVu Sans','Liberation Sans',sans-serif" font-weight="200" stroke="#000" stroke-width="0.5" font-size="66.00" textLength="84.88" lengthAdjust="spacingAndGlyphs" fill="#000">40</text>
<text x="1369.02" y="2044.50" font-family="'DejaVu Sans','Liberation Sans',sans-serif" font-weight="200" stroke="#000" stroke-width="0.5" font-size="66.00" textLength="86.44" lengthAdjust="spacingAndGlyphs" fill="#000">60</text>
<text x="1743.80" y="2044.50" font-family="'DejaVu Sans','Liberation Sans',sans-serif" font-weight="200" stroke="#000" stroke-width="0.5" font-size="66.00" textLength="88.08" lengthAdjust="spacingAndGlyphs" fill="#000">80</text>
<text x="2101.55" y="2044.50" font-family="'DejaVu Sans','Liberation Sans',sans-serif" font-weight="200" stroke="#000" stroke-width="0.5" font-size="66.00" textLength="125.10" lengthAdjust="spacingAndGlyphs" fill="#000">100</text>
<text x="338.74" y="358.40" font-family="'DejaVu Sans','Liberation Sans',sans-serif" font-weight="200" stroke="#000" stroke-width="0.5" font-size="71.00" textLength="145.78" lengthAdjust="spacingAndGlyphs" fill="#000">High</text>
<text x="498.08" y="358.40" font-family="'DejaVu Sans','Liberation Sans',sans-serif" font-weight="200" stroke="#000" stroke-width="0.5" font-size="71.00" textLength="95.14" lengthAdjust="spacingAndGlyphs" fill="#000">WI</text>
<text x="604.93" y="358.40" font-family="'DejaVu Sans','Liberation Sans',sans-serif" font-weight="200" stroke="#000" stroke-width="0.5" font-size="71.00" textLength="141.76" lengthAdjust="spacingAndGlyphs" fill="#000">limit</text>
<text x="762.75" y="358.40" font-family="'DejaVu Sans','Liberation Sans',sans-serif" font-weight="200" stroke="#000" stroke-width="0.5" font-size="71.00" textLength="165.91" lengthAdjust="spacingAndGlyphs" fill="#000">(54.7</text>
<text x="936.68" y="358.40" font-family="'DejaVu Sans','Liberation Sans',sans-serif" font-weight="200" stroke="#000" stroke-width="0.5" font-size="71.00" textLength="236.02" lengthAdjust="spacingAndGlyphs" fill="#000">MJ/m³)</text>
<text x="339.90" y="1460.70" font-family="'DejaVu Sans','Liberation Sans',sans-serif" font-weight="200" stroke="#000" stroke-width="0.5" font-size="70.00" textLength="134.39" lengthAdjust="spacingAndGlyphs" fill="#000">Low</text>
<text x="486.02" y="1460.70" font-family="'DejaVu Sans','Liberation Sans',sans-serif" font-weight="200" stroke="#000" stroke-width="0.5" font-size="70.00" textLength="91.18" lengthAdjust="spacingAndGlyphs" fill="#000">WI</text>
<text x="593.27" y="1460.70" font-family="'DejaVu Sans','Liberation Sans',sans-serif" font-weight="200" stroke="#000" stroke-width="0.5" font-size="70.00" textLength="141.06" lengthAdjust="spacingAndGlyphs" fill="#000">limit</text>
<text x="746.75" y="1460.70" font-family="'DejaVu Sans','Liberation Sans',sans-serif" font-weight="200" stroke="#000" stroke-width="0.5" font-size="70.00" textLength="168.37" lengthAdjust="spacingAndGlyphs" fill="#000">(39.1</text>
<text x="924.00" y="1460.70" font-family="'DejaVu Sans','Liberation Sans',sans-serif" font-weight="200" stroke="#000" stroke-width="0.5" font-size="70.00" textLength="234.49" lengthAdjust="spacingAndGlyphs" fill="#000">MJ/m³)</text>
<text x="1876.31" y="512.80" font-family="'DejaVu Sans','Liberation Sans',sans-serif" font-weight="200" stroke="#000" stroke-width="0.5" font-size="68.00" textLength="93.47" lengthAdjust="spacingAndGlyphs" fill="#000">CH</text>
<text x="1967.88" y="531.00" font-family="'DejaVu Sans','Liberation Sans',sans-serif" font-weight="200" stroke="#000" stroke-width="0.5" font-size="38.00" textLength="25.60" lengthAdjust="spacingAndGlyphs" fill="#000">4</text>
<text x="1874.81" y="634.40" font-family="'DejaVu Sans','Liberation Sans',sans-serif" font-weight="200" stroke="#000" stroke-width="0.5" font-size="67.00" textLength="103.22" lengthAdjust="spacingAndGlyphs" fill="#000">NG</text>
<text x="611.00" y="2160.00" font-family="'Liberation Sans',Arial,sans-serif" font-size="90.00" textLength="379.09" lengthAdjust="spacingAndGlyphs" fill="#000">Hydrogen</text>
<text x="1013.97" y="2160.00" font-family="'Liberation Sans',Arial,sans-serif" font-size="90.00" textLength="569.86" lengthAdjust="spacingAndGlyphs" fill="#000">concentration,</text>
<text x="1604.99" y="2160.00" font-family="'Liberation Sans',Arial,sans-serif" font-size="90.00" textLength="40.72" lengthAdjust="spacingAndGlyphs" fill="#000">x</text>
<text x="1641.72" y="2182.60" font-family="'DejaVu Sans','Liberation Sans',sans-serif" font-weight="200" stroke="#000" stroke-width="0.5" font-size="46.00" textLength="41.85" lengthAdjust="spacingAndGlyphs" fill="#000">H</text>
<text x="1681.94" y="2192.70" font-family="'DejaVu Sans','Liberation Sans',sans-serif" font-weight="200" stroke="#000" stroke-width="0.5" font-size="45.00" textLength="29.19" lengthAdjust="spacingAndGlyphs" fill="#000">2</text>
<text x="1711.57" y="2160.00" font-family="'Liberation Sans',Arial,sans-serif" font-size="90.00" textLength="123.60" lengthAdjust="spacingAndGlyphs" fill="#000">(%)</text>
<text transform="translate(133.80 1423.10) rotate(-90)" x="0" y="0" font-family="'Liberation Sans',Arial,sans-serif" font-size="87.00" textLength="275.82" lengthAdjust="spacingAndGlyphs" fill="#000">Wobbe</text>
<text transform="translate(133.80 1125.10) rotate(-90)" x="0" y="0" font-family="'Liberation Sans',Arial,sans-serif" font-size="87.00" textLength="207.98" lengthAdjust="spacingAndGlyphs" fill="#000">index</text>
<text transform="translate(133.80 892.70) rotate(-90)" x="0" y="0" font-family="'Liberation Sans',Arial,sans-serif" font-size="87.00" textLength="251.32" lengthAdjust="spacingAndGlyphs" fill="#000">(MJ/m</text>
<text transform="translate(105.20 635.25) rotate(-90)" x="0" y="0" font-family="'DejaVu Sans','Liberation Sans',sans-serif" font-weight="200" stroke="#000" stroke-width="0.5" font-size="46.00" textLength="29.58" lengthAdjust="spacingAndGlyphs" fill="#000">3</text>
<text transform="translate(133.80 600.75) rotate(-90)" x="0" y="0" font-family="'Liberation Sans',Arial,sans-serif" font-size="90.00" textLength="22.49" lengthAdjust="spacingAndGlyphs" fill="#000">)</text>
</svg></body></html>
